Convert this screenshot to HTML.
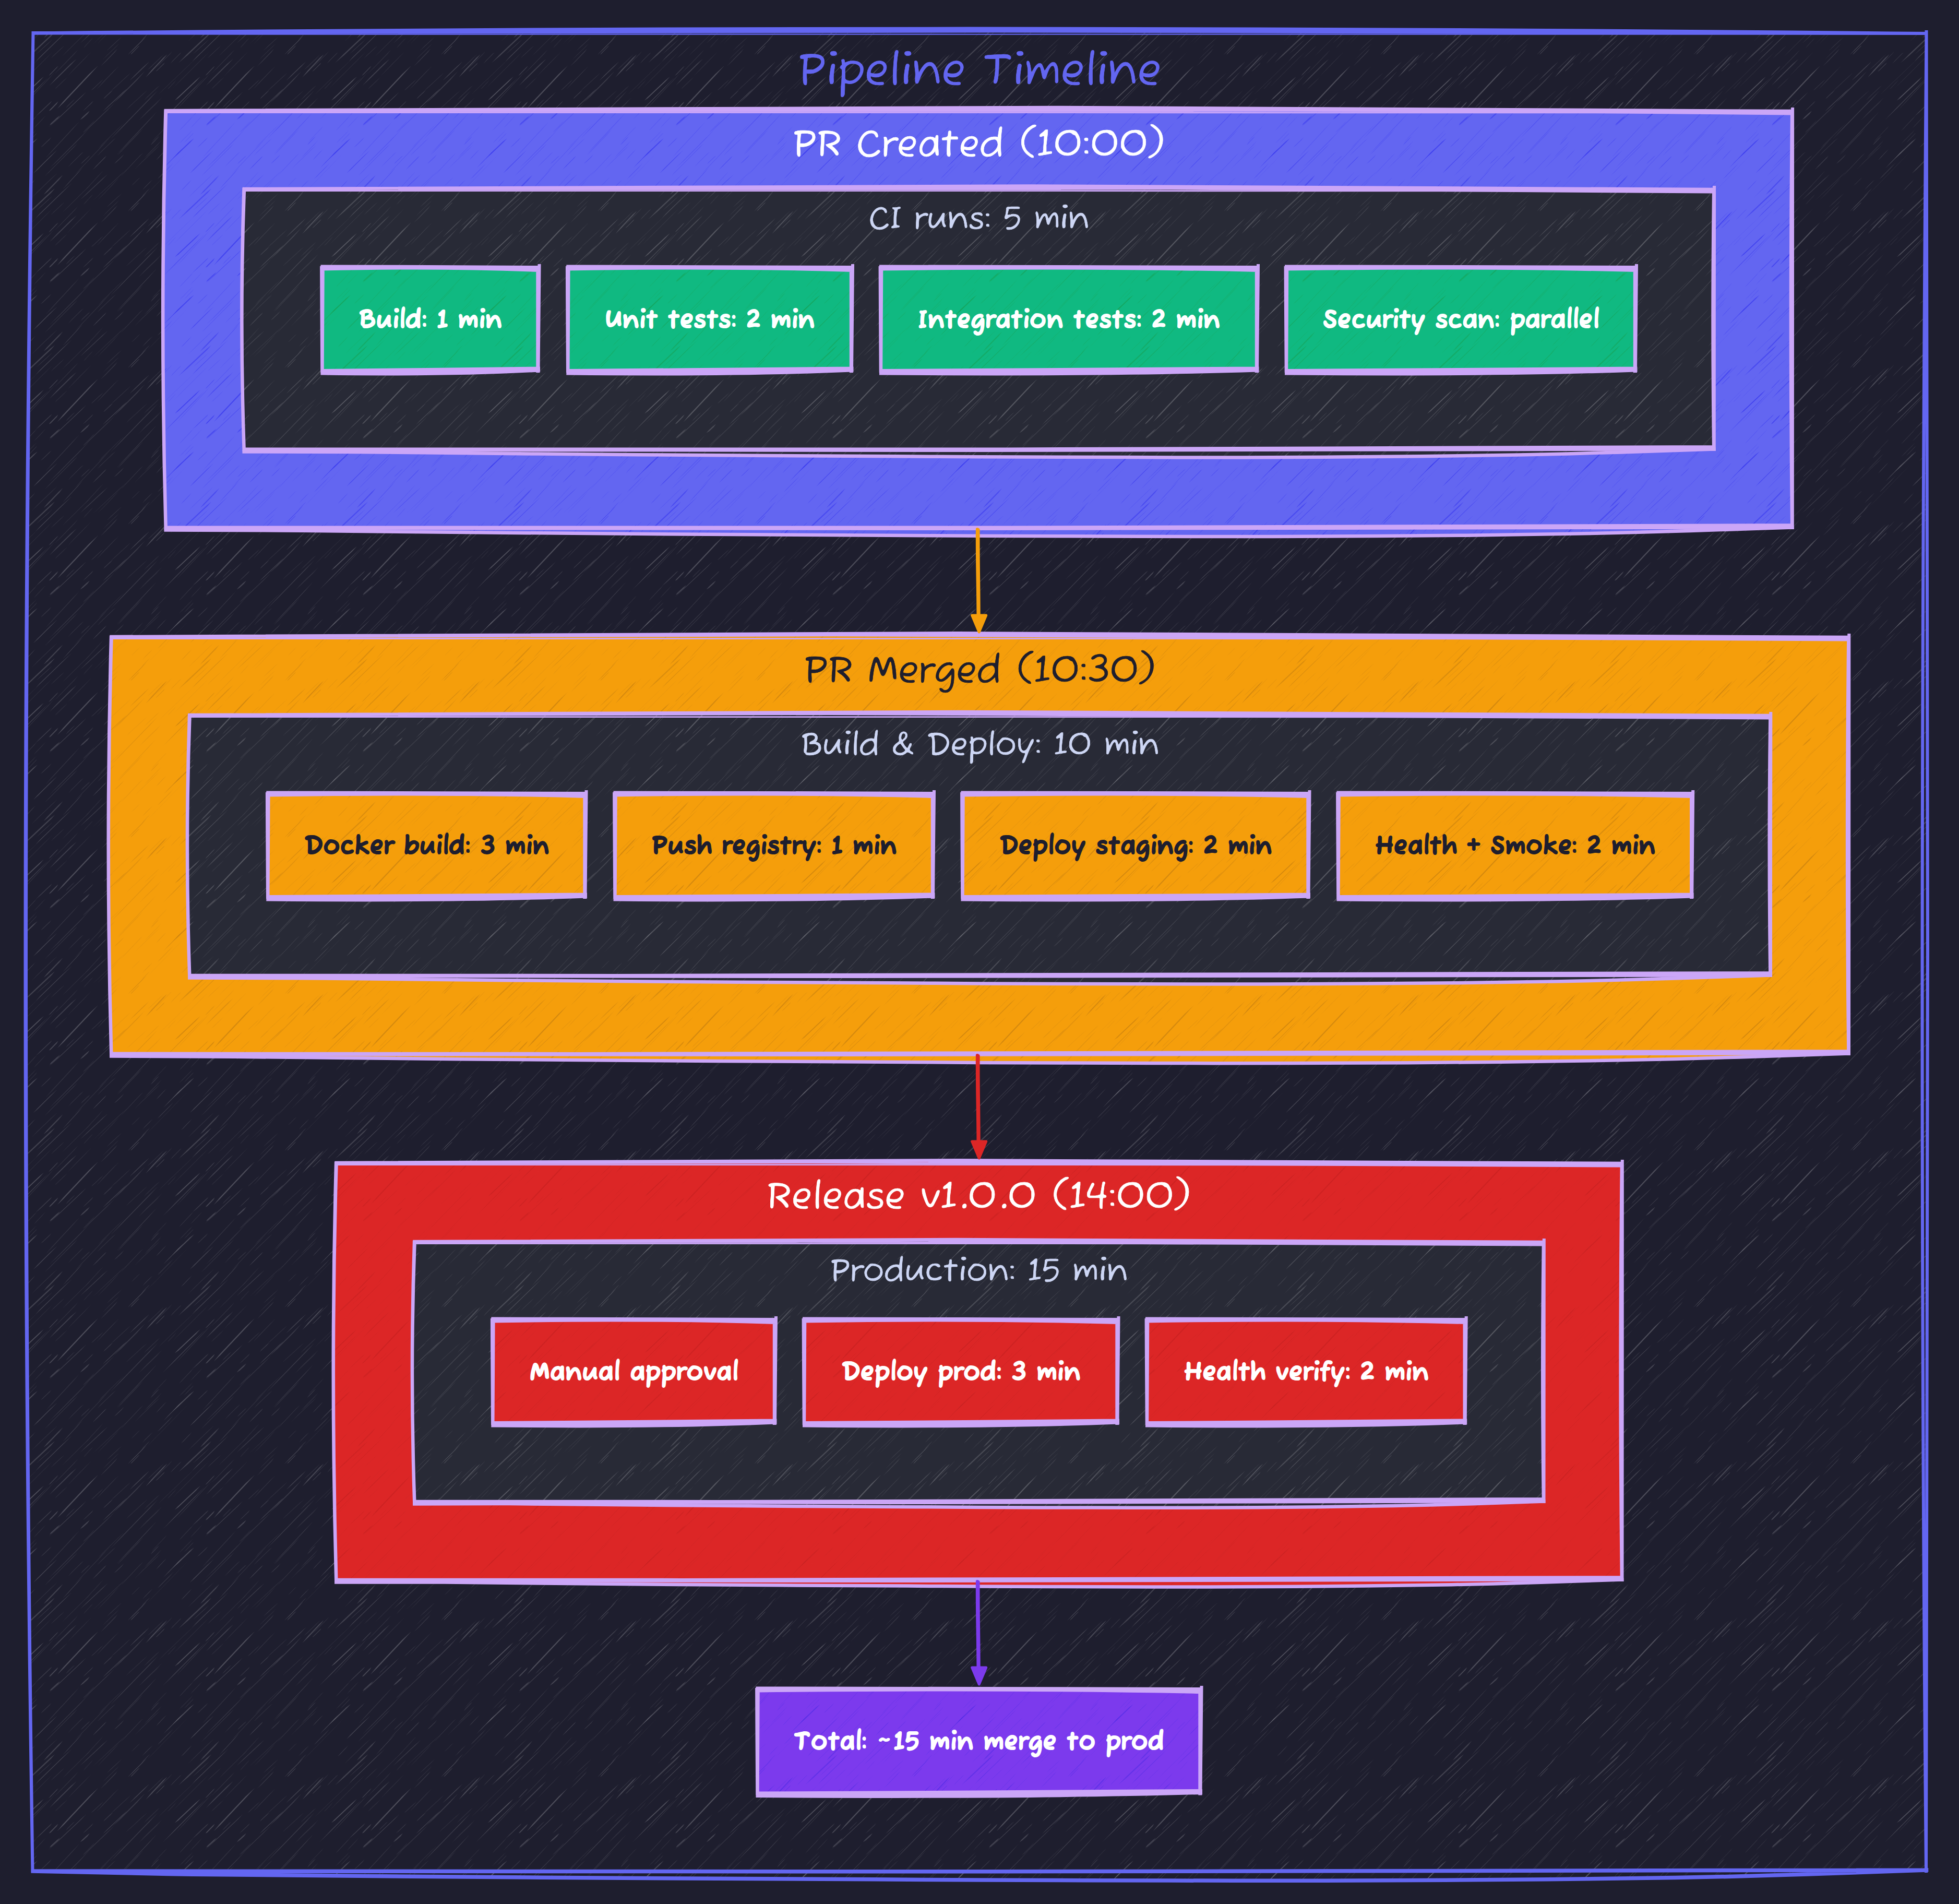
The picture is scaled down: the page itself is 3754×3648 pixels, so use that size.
<!DOCTYPE html>
<html lang="en"><head><meta charset="utf-8"><title>Pipeline Timeline</title>
<style>
html,body{margin:0;padding:0;background:#1e1e2e;width:3754px;height:3648px;overflow:hidden}
svg{display:block}
text{font-family:"Fuzzy Bubbles","Liberation Sans",sans-serif}
</style></head><body>
<svg width="3754" height="3648" viewBox="0 0 3754 3648">
<defs>
<pattern id="sk-dark" width="300" height="300" patternUnits="userSpaceOnUse"><path fill="#ffffff" fill-opacity="0.05" d="M-17.8 71.0L-5.6 59.0L39.9 12.2L59.5 -8.4L39.4 11.7L-6.2 58.5ZM-17.8 371.0L-5.6 359.0L39.9 312.2L59.5 291.6L39.4 311.7L-6.2 358.5ZM282.2 71.0L294.4 59.0L339.9 12.2L359.5 -8.4L339.4 11.7L293.8 58.5ZM282.2 371.0L294.4 359.0L339.9 312.2L359.5 291.6L339.4 311.7L293.8 358.5ZM159.8 92.6L163.6 88.9L175.0 76.5L178.2 72.6L174.0 75.7L162.7 88.0Z"/><path fill="#ffffff" fill-opacity="0.06" d="M-9.2 271.9L-4.0 267.2L16.6 245.8L19.9 241.6L15.8 245.0L-4.8 266.4ZM290.8 271.9L296.0 267.2L316.6 245.8L319.9 241.6L315.8 245.0L295.2 266.4ZM43.2 275.2L49.8 269.7L64.5 254.8L69.6 248.5L63.7 253.9L48.9 268.8ZM105.2 170.8L109.4 167.4L122.6 154.9L129.0 148.1L121.7 153.9L108.5 166.4ZM163.5 64.1L168.6 59.5L188.5 37.9L197.8 26.8L187.6 37.1L167.7 58.7ZM177.7 84.8L196.9 67.6L230.2 36.7L242.4 24.5L229.4 35.8L196.2 66.7ZM188.2 284.6L195.4 277.9L226.5 247.3L237.5 236.1L225.8 246.5L194.7 277.1Z"/><path fill="#ffffff" fill-opacity="0.07" d="M3.2 181.4L13.5 171.8L57.3 129.7L73.7 113.7L56.8 129.2L13.0 171.3ZM303.2 181.4L313.5 171.8L357.3 129.7L373.7 113.7L356.8 129.2L313.0 171.3ZM129.4 145.9L142.0 133.5L162.2 112.9L174.9 99.3L161.5 112.2L141.3 132.8ZM186.2 84.3L197.3 73.5L218.7 51.2L227.8 40.8L218.1 50.6L196.7 72.9ZM211.9 174.9L219.7 168.8L243.3 147.1L250.7 139.3L242.5 146.2L218.8 167.9ZM241.7 210.2L248.1 204.8L274.4 180.7L282.6 172.7L273.7 180.0L247.5 204.1ZM282.1 134.6L289.3 129.0L306.0 112.9L313.9 104.0L305.1 112.0L288.4 128.1ZM-17.9 134.6L-10.7 129.0L6.0 112.9L13.9 104.0L5.1 112.0L-11.6 128.1ZM275.7 192.6L283.2 185.9L301.5 168.5L306.0 163.7L300.7 167.7L282.4 185.0ZM-24.3 192.6L-16.8 185.9L1.5 168.5L6.0 163.7L0.7 167.7L-17.6 185.0ZM277.1 302.4L285.3 295.3L302.1 277.9L309.8 268.6L301.1 277.0L284.3 294.3ZM277.1 2.4L285.3 -4.7L302.1 -22.1L309.8 -31.4L301.1 -23.0L284.3 -5.7ZM-22.9 302.4L-14.7 295.3L2.1 277.9L9.8 268.6L1.1 277.0L-15.7 294.3ZM-22.9 2.4L-14.7 -4.7L2.1 -22.1L9.8 -31.4L1.1 -23.0L-15.7 -5.7Z"/><path fill="#ffffff" fill-opacity="0.08" d="M-3.8 132.3L6.0 123.7L25.0 104.7L30.3 98.2L24.3 104.0L5.3 123.0ZM296.2 132.3L306.0 123.7L325.0 104.7L330.3 98.2L324.3 104.0L305.3 123.0ZM60.1 79.6L71.9 68.5L99.8 41.7L110.2 31.4L99.1 41.0L71.2 67.8ZM31.6 168.4L46.5 154.0L87.5 113.2L100.3 100.1L86.9 112.7L46.0 153.5ZM186.4 298.5L193.1 292.3L216.3 270.0L221.7 264.6L215.5 269.2L192.3 291.5ZM186.4 -1.5L193.1 -7.7L216.3 -30.0L221.7 -35.4L215.5 -30.8L192.3 -8.5ZM224.9 297.4L232.4 290.5L264.0 257.7L274.3 245.9L263.1 256.8L231.6 289.7ZM224.9 -2.6L232.4 -9.5L264.0 -42.3L274.3 -54.1L263.1 -43.2L231.6 -10.3ZM257.5 24.9L271.9 11.2L297.6 -13.3L306.3 -21.7L296.9 -13.9L271.3 10.6ZM257.5 324.9L271.9 311.2L297.6 286.7L306.3 278.3L296.9 286.1L271.3 310.6ZM-42.5 24.9L-28.1 11.2L-2.4 -13.3L6.3 -21.7L-3.1 -13.9L-28.7 10.6ZM-42.5 324.9L-28.1 311.2L-2.4 286.7L6.3 278.3L-3.1 286.1L-28.7 310.6ZM270.0 225.7L282.2 214.8L301.4 196.3L309.8 187.3L300.7 195.5L281.5 214.0ZM-30.0 225.7L-17.8 214.8L1.4 196.3L9.8 187.3L0.7 195.5L-18.5 214.0ZM265.6 230.9L272.9 224.6L298.5 200.1L306.3 191.9L298.0 199.6L272.4 224.1ZM-34.4 230.9L-27.1 224.6L-1.5 200.1L6.3 191.9L-2.0 199.6L-27.6 224.1Z"/><path fill="#ffffff" fill-opacity="0.09" d="M21.0 170.8L23.9 168.8L34.1 158.1L37.9 153.1L33.6 157.6L23.4 168.3ZM43.5 250.6L47.5 247.1L66.0 227.4L70.6 221.7L65.2 226.7L46.8 246.4ZM87.5 302.6L100.7 289.3L140.0 246.7L151.9 233.0L139.1 245.9L99.8 288.5ZM87.5 2.6L100.7 -10.7L140.0 -53.3L151.9 -67.0L139.1 -54.1L99.8 -11.5ZM119.0 107.8L129.3 98.1L163.9 64.1L173.8 53.9L163.4 63.6L128.8 97.6ZM104.7 141.3L116.3 130.6L142.6 103.5L149.2 95.4L141.9 102.8L115.6 129.9ZM126.2 206.9L130.3 203.4L139.5 194.3L143.5 189.8L138.7 193.5L129.5 202.6ZM158.6 254.1L162.2 251.2L177.6 235.2L181.1 230.8L177.1 234.7L161.7 250.7ZM143.5 334.1L155.3 322.8L196.2 279.7L211.6 262.3L195.6 279.1L154.6 322.2ZM143.5 34.1L155.3 22.8L196.2 -20.3L211.6 -37.7L195.6 -20.9L154.6 22.2ZM159.0 255.6L172.0 244.0L204.4 213.0L219.7 197.3L203.5 212.0L171.1 243.1ZM196.7 114.4L205.3 106.4L222.4 89.7L227.9 83.9L221.9 89.2L204.8 105.9ZM251.2 56.6L256.1 52.4L265.4 43.3L268.4 39.9L264.9 42.8L255.6 51.9Z"/><path fill="#ffffff" fill-opacity="0.1" d="M38.5 209.7L51.4 196.5L92.3 152.4L105.1 137.9L91.7 151.9L50.8 196.0ZM64.7 245.8L69.7 241.1L81.1 229.0L87.5 221.6L80.6 228.5L69.2 240.6ZM94.3 323.0L112.7 306.0L150.6 267.9L171.4 245.6L149.8 267.1L111.8 305.2ZM94.3 23.0L112.7 6.0L150.6 -32.1L171.4 -54.4L149.8 -32.9L111.8 5.2ZM154.8 14.4L158.5 11.4L169.9 0.7L172.5 -2.2L169.2 -0.1L157.8 10.6ZM154.8 314.4L158.5 311.4L169.9 300.7L172.5 297.8L169.2 299.9L157.8 310.6ZM193.1 126.7L202.5 118.3L220.7 99.4L225.0 93.6L219.8 98.5L201.6 117.4ZM185.5 170.7L198.3 157.7L218.1 137.1L227.8 126.8L217.4 136.5L197.6 157.0ZM231.6 37.8L242.1 26.8L268.8 -1.5L274.0 -7.1L268.2 -2.1L241.4 26.2ZM231.6 337.8L242.1 326.8L268.8 298.5L274.0 292.9L268.2 297.9L241.4 326.2Z"/><path fill="#ffffff" fill-opacity="0.11" d="M52.7 273.7L57.6 269.3L69.1 257.2L71.1 254.3L68.6 256.7L57.1 268.8ZM78.2 282.4L82.4 279.6L94.5 267.9L98.7 262.7L93.8 267.1L81.7 278.8ZM85.6 37.8L93.7 30.2L140.9 -17.1L148.5 -25.3L140.3 -17.7L93.2 29.7ZM85.6 337.8L93.7 330.2L140.9 282.9L148.5 274.7L140.3 282.3L93.2 329.7ZM97.7 111.7L103.4 106.6L117.9 93.1L123.5 87.6L117.4 92.5L102.9 106.1ZM130.2 20.4L138.2 12.5L155.2 -4.3L160.5 -9.5L154.7 -4.9L137.6 11.9ZM130.2 320.4L138.2 312.5L155.2 295.7L160.5 290.5L154.7 295.1L137.6 311.9ZM204.6 97.2L212.7 90.2L226.8 77.1L233.6 70.2L226.3 76.5L212.2 89.6ZM288.6 278.3L292.8 274.5L301.6 265.3L305.2 260.9L300.7 264.4L291.9 273.6ZM-11.4 278.3L-7.2 274.5L1.6 265.3L5.2 260.9L0.7 264.4L-8.1 273.6Z"/><path fill="#ffffff" fill-opacity="0.12" d="M1.5 43.2L7.4 38.3L23.9 21.5L32.1 12.2L23.2 20.8L6.7 37.6ZM301.5 43.2L307.4 38.3L323.9 21.5L332.1 12.2L323.2 20.8L306.7 37.6ZM153.4 83.3L166.7 71.6L196.2 44.0L206.4 33.8L195.4 43.1L165.8 70.8ZM198.2 189.7L201.5 187.0L211.7 177.4L216.4 172.5L210.9 176.5L200.7 186.2ZM216.9 197.8L232.3 184.1L263.6 152.5L277.5 136.6L262.4 151.2L231.0 182.9ZM211.4 267.0L233.1 245.6L287.1 189.9L302.7 172.9L286.1 189.0L232.1 244.7ZM-88.6 267.0L-66.9 245.6L-12.9 189.9L2.7 172.9L-13.9 189.0L-67.9 244.7ZM223.8 295.8L241.0 278.6L284.6 232.2L301.3 213.4L283.9 231.6L240.3 278.0ZM-76.2 295.8L-59.0 278.6L-15.4 232.2L1.3 213.4L-16.1 231.6L-59.7 278.0ZM270.6 78.6L275.4 73.7L283.3 65.3L287.3 60.9L282.7 64.7L274.7 73.0Z"/><path fill="#ffffff" fill-opacity="0.13" d="M68.2 223.3L77.6 215.4L96.3 197.7L99.6 193.4L95.4 196.8L76.7 214.5ZM158.6 212.8L163.6 209.1L176.1 197.2L178.9 193.3L175.4 196.5L163.0 208.5ZM174.5 173.5L178.0 171.1L193.1 157.1L197.8 152.0L192.6 156.6L177.5 170.6ZM218.7 13.8L223.4 10.5L233.1 1.2L237.6 -4.4L232.4 0.5L222.7 9.8ZM218.7 313.8L223.4 310.5L233.1 301.2L237.6 295.6L232.4 300.5L222.7 309.8Z"/><path fill="#ffffff" fill-opacity="0.14" d="M26.7 121.8L31.3 117.1L44.6 103.6L47.6 100.5L44.1 103.1L30.8 116.6ZM11.8 230.0L35.2 207.5L73.6 168.8L92.0 149.1L72.7 167.9L34.3 206.6ZM69.6 103.8L78.0 96.6L91.8 83.9L100.8 75.1L91.3 83.4L77.6 96.1ZM94.6 164.1L109.8 150.0L136.7 123.6L146.8 112.8L135.4 122.2L108.5 148.7Z"/><path fill="#ffffff" fill-opacity="0.15" d="M42.3 120.2L59.8 105.4L97.8 69.7L105.0 61.3L96.3 68.1L58.3 103.8ZM83.8 72.9L90.9 67.5L113.5 44.3L120.3 35.2L111.9 42.8L89.4 66.1ZM177.7 25.2L184.9 18.8L200.8 2.7L204.1 -1.5L200.0 2.0L184.1 18.0ZM177.7 325.2L184.9 318.8L200.8 302.7L204.1 298.5L200.0 302.0L184.1 318.0ZM248.3 154.4L258.9 145.2L277.2 127.7L286.0 118.2L276.2 126.7L258.0 144.3ZM272.7 64.3L278.5 58.4L286.7 50.2L292.6 44.0L286.2 49.7L278.0 57.9Z"/><path fill="#ffffff" fill-opacity="0.16" d="M64.0 32.3L72.5 24.7L97.3 0.1L109.5 -12.6L96.4 -0.8L71.5 23.8ZM64.0 332.3L72.5 324.7L97.3 300.1L109.5 287.4L96.4 299.2L71.5 323.8ZM93.2 145.3L96.6 142.7L109.0 130.0L111.6 126.5L108.2 129.3L95.9 141.9ZM95.1 239.9L99.0 237.8L110.6 227.0L115.0 221.3L109.1 225.4L97.5 236.3ZM92.7 244.5L114.7 224.7L156.1 185.7L165.1 176.3L155.5 185.0L114.1 224.0ZM153.7 229.5L159.3 226.0L167.6 218.4L171.9 212.6L166.1 216.8L157.8 224.5Z"/><path fill="#ffffff" fill-opacity="0.17" d="M-1.8 137.2L1.4 135.1L13.7 123.0L15.6 120.1L13.1 122.3L0.8 134.4ZM298.2 137.2L301.4 135.1L313.7 123.0L315.6 120.1L313.1 122.3L300.8 134.4ZM13.1 22.2L24.0 11.8L41.4 -6.0L51.3 -16.8L40.8 -6.7L23.3 11.1ZM13.1 322.2L24.0 311.8L41.4 294.0L51.3 283.2L40.8 293.3L23.3 311.1ZM47.0 65.2L51.5 61.5L62.2 50.3L67.5 43.9L61.7 49.8L51.0 61.0ZM68.2 118.2L77.0 110.0L119.5 68.8L137.8 50.7L118.8 68.0L76.2 109.2ZM119.8 62.9L130.4 52.2L149.7 31.2L158.0 21.4L149.1 30.7L129.8 51.7ZM196.9 213.8L205.6 206.2L236.7 176.8L243.3 169.7L236.0 176.1L205.0 205.6ZM250.2 104.7L252.9 102.4L265.5 89.6L267.5 87.2L264.9 89.0L252.2 101.8Z"/><path fill="#ffffff" fill-opacity="0.18" d="M-0.5 306.7L4.6 301.5L14.2 291.3L18.7 286.3L13.7 290.9L4.1 301.1ZM-0.5 6.7L4.6 1.5L14.2 -8.7L18.7 -13.7L13.7 -9.1L4.1 1.1ZM299.5 306.7L304.6 301.5L314.2 291.3L318.7 286.3L313.7 290.9L304.1 301.1ZM299.5 6.7L304.6 1.5L314.2 -8.7L318.7 -13.7L313.7 -9.1L304.1 1.1ZM30.0 305.0L42.4 294.2L64.8 272.7L71.9 264.9L63.5 271.2L41.0 292.7ZM30.0 5.0L42.4 -5.8L64.8 -27.3L71.9 -35.1L63.5 -28.8L41.0 -7.3ZM93.8 212.8L97.2 211.1L108.7 199.3L111.5 194.6L107.4 198.0L95.9 209.8ZM244.9 105.1L255.1 95.8L271.9 79.0L281.0 69.0L271.1 78.2L254.3 95.0Z"/><path fill="#ffffff" fill-opacity="0.19" d="M279.4 148.0L291.3 136.4L313.9 112.2L320.4 104.2L312.5 111.0L289.9 135.1ZM-20.6 148.0L-8.7 136.4L13.9 112.2L20.4 104.2L12.5 111.0L-10.1 135.1Z"/><path fill="#ffffff" fill-opacity="0.2" d="M110.1 208.1L122.2 196.4L171.7 144.1L187.9 126.0L170.1 142.6L120.6 194.9Z"/><path fill="#ffffff" fill-opacity="0.21" d="M35.0 192.6L41.8 187.7L75.5 156.0L83.8 146.8L74.3 154.8L40.6 186.4Z"/></pattern>
<pattern id="sk-blue" width="300" height="300" patternUnits="userSpaceOnUse"><path fill="#2a2aee" fill-opacity="0.15" d="M-17.8 71.0L-5.6 59.0L39.9 12.2L59.5 -8.4L39.4 11.7L-6.2 58.5ZM-17.8 371.0L-5.6 359.0L39.9 312.2L59.5 291.6L39.4 311.7L-6.2 358.5ZM282.2 71.0L294.4 59.0L339.9 12.2L359.5 -8.4L339.4 11.7L293.8 58.5ZM282.2 371.0L294.4 359.0L339.9 312.2L359.5 291.6L339.4 311.7L293.8 358.5Z"/><path fill="#2a2aee" fill-opacity="0.16" d="M159.8 92.6L163.6 88.9L175.0 76.5L178.2 72.6L174.0 75.7L162.7 88.0ZM163.5 64.1L168.6 59.5L188.5 37.9L197.8 26.8L187.6 37.1L167.7 58.7Z"/><path fill="#2a2aee" fill-opacity="0.17" d="M43.2 275.2L49.8 269.7L64.5 254.8L69.6 248.5L63.7 253.9L48.9 268.8ZM177.7 84.8L196.9 67.6L230.2 36.7L242.4 24.5L229.4 35.8L196.2 66.7ZM188.2 284.6L195.4 277.9L226.5 247.3L237.5 236.1L225.8 246.5L194.7 277.1Z"/><path fill="#2a2aee" fill-opacity="0.18" d="M-9.2 271.9L-4.0 267.2L16.6 245.8L19.9 241.6L15.8 245.0L-4.8 266.4ZM290.8 271.9L296.0 267.2L316.6 245.8L319.9 241.6L315.8 245.0L295.2 266.4ZM105.2 170.8L109.4 167.4L122.6 154.9L129.0 148.1L121.7 153.9L108.5 166.4Z"/><path fill="#2a2aee" fill-opacity="0.19" d="M3.2 181.4L13.5 171.8L57.3 129.7L73.7 113.7L56.8 129.2L13.0 171.3ZM303.2 181.4L313.5 171.8L357.3 129.7L373.7 113.7L356.8 129.2L313.0 171.3ZM241.7 210.2L248.1 204.8L274.4 180.7L282.6 172.7L273.7 180.0L247.5 204.1ZM277.1 302.4L285.3 295.3L302.1 277.9L309.8 268.6L301.1 277.0L284.3 294.3ZM277.1 2.4L285.3 -4.7L302.1 -22.1L309.8 -31.4L301.1 -23.0L284.3 -5.7ZM-22.9 302.4L-14.7 295.3L2.1 277.9L9.8 268.6L1.1 277.0L-15.7 294.3ZM-22.9 2.4L-14.7 -4.7L2.1 -22.1L9.8 -31.4L1.1 -23.0L-15.7 -5.7Z"/><path fill="#2a2aee" fill-opacity="0.2" d="M129.4 145.9L142.0 133.5L162.2 112.9L174.9 99.3L161.5 112.2L141.3 132.8ZM211.9 174.9L219.7 168.8L243.3 147.1L250.7 139.3L242.5 146.2L218.8 167.9ZM282.1 134.6L289.3 129.0L306.0 112.9L313.9 104.0L305.1 112.0L288.4 128.1ZM-17.9 134.6L-10.7 129.0L6.0 112.9L13.9 104.0L5.1 112.0L-11.6 128.1ZM275.7 192.6L283.2 185.9L301.5 168.5L306.0 163.7L300.7 167.7L282.4 185.0ZM-24.3 192.6L-16.8 185.9L1.5 168.5L6.0 163.7L0.7 167.7L-17.6 185.0Z"/><path fill="#2a2aee" fill-opacity="0.21" d="M186.2 84.3L197.3 73.5L218.7 51.2L227.8 40.8L218.1 50.6L196.7 72.9Z"/><path fill="#2a2aee" fill-opacity="0.22" d="M186.4 298.5L193.1 292.3L216.3 270.0L221.7 264.6L215.5 269.2L192.3 291.5ZM186.4 -1.5L193.1 -7.7L216.3 -30.0L221.7 -35.4L215.5 -30.8L192.3 -8.5ZM257.5 24.9L271.9 11.2L297.6 -13.3L306.3 -21.7L296.9 -13.9L271.3 10.6ZM257.5 324.9L271.9 311.2L297.6 286.7L306.3 278.3L296.9 286.1L271.3 310.6ZM-42.5 24.9L-28.1 11.2L-2.4 -13.3L6.3 -21.7L-3.1 -13.9L-28.7 10.6ZM-42.5 324.9L-28.1 311.2L-2.4 286.7L6.3 278.3L-3.1 286.1L-28.7 310.6Z"/><path fill="#2a2aee" fill-opacity="0.23" d="M-3.8 132.3L6.0 123.7L25.0 104.7L30.3 98.2L24.3 104.0L5.3 123.0ZM296.2 132.3L306.0 123.7L325.0 104.7L330.3 98.2L324.3 104.0L305.3 123.0ZM60.1 79.6L71.9 68.5L99.8 41.7L110.2 31.4L99.1 41.0L71.2 67.8ZM31.6 168.4L46.5 154.0L87.5 113.2L100.3 100.1L86.9 112.7L46.0 153.5ZM224.9 297.4L232.4 290.5L264.0 257.7L274.3 245.9L263.1 256.8L231.6 289.7ZM224.9 -2.6L232.4 -9.5L264.0 -42.3L274.3 -54.1L263.1 -43.2L231.6 -10.3ZM270.0 225.7L282.2 214.8L301.4 196.3L309.8 187.3L300.7 195.5L281.5 214.0ZM-30.0 225.7L-17.8 214.8L1.4 196.3L9.8 187.3L0.7 195.5L-18.5 214.0ZM265.6 230.9L272.9 224.6L298.5 200.1L306.3 191.9L298.0 199.6L272.4 224.1ZM-34.4 230.9L-27.1 224.6L-1.5 200.1L6.3 191.9L-2.0 199.6L-27.6 224.1Z"/><path fill="#2a2aee" fill-opacity="0.25" d="M21.0 170.8L23.9 168.8L34.1 158.1L37.9 153.1L33.6 157.6L23.4 168.3ZM87.5 302.6L100.7 289.3L140.0 246.7L151.9 233.0L139.1 245.9L99.8 288.5ZM87.5 2.6L100.7 -10.7L140.0 -53.3L151.9 -67.0L139.1 -54.1L99.8 -11.5ZM119.0 107.8L129.3 98.1L163.9 64.1L173.8 53.9L163.4 63.6L128.8 97.6ZM158.6 254.1L162.2 251.2L177.6 235.2L181.1 230.8L177.1 234.7L161.7 250.7ZM159.0 255.6L172.0 244.0L204.4 213.0L219.7 197.3L203.5 212.0L171.1 243.1Z"/><path fill="#2a2aee" fill-opacity="0.26" d="M43.5 250.6L47.5 247.1L66.0 227.4L70.6 221.7L65.2 226.7L46.8 246.4ZM104.7 141.3L116.3 130.6L142.6 103.5L149.2 95.4L141.9 102.8L115.6 129.9ZM126.2 206.9L130.3 203.4L139.5 194.3L143.5 189.8L138.7 193.5L129.5 202.6ZM251.2 56.6L256.1 52.4L265.4 43.3L268.4 39.9L264.9 42.8L255.6 51.9Z"/><path fill="#2a2aee" fill-opacity="0.27" d="M143.5 334.1L155.3 322.8L196.2 279.7L211.6 262.3L195.6 279.1L154.6 322.2ZM143.5 34.1L155.3 22.8L196.2 -20.3L211.6 -37.7L195.6 -20.9L154.6 22.2ZM196.7 114.4L205.3 106.4L222.4 89.7L227.9 83.9L221.9 89.2L204.8 105.9Z"/><path fill="#2a2aee" fill-opacity="0.28" d="M64.7 245.8L69.7 241.1L81.1 229.0L87.5 221.6L80.6 228.5L69.2 240.6ZM193.1 126.7L202.5 118.3L220.7 99.4L225.0 93.6L219.8 98.5L201.6 117.4ZM185.5 170.7L198.3 157.7L218.1 137.1L227.8 126.8L217.4 136.5L197.6 157.0ZM231.6 37.8L242.1 26.8L268.8 -1.5L274.0 -7.1L268.2 -2.1L241.4 26.2ZM231.6 337.8L242.1 326.8L268.8 298.5L274.0 292.9L268.2 297.9L241.4 326.2Z"/><path fill="#2a2aee" fill-opacity="0.29" d="M38.5 209.7L51.4 196.5L92.3 152.4L105.1 137.9L91.7 151.9L50.8 196.0ZM94.3 323.0L112.7 306.0L150.6 267.9L171.4 245.6L149.8 267.1L111.8 305.2ZM94.3 23.0L112.7 6.0L150.6 -32.1L171.4 -54.4L149.8 -32.9L111.8 5.2ZM154.8 14.4L158.5 11.4L169.9 0.7L172.5 -2.2L169.2 -0.1L157.8 10.6ZM154.8 314.4L158.5 311.4L169.9 300.7L172.5 297.8L169.2 299.9L157.8 310.6Z"/><path fill="#2a2aee" fill-opacity="0.31" d="M52.7 273.7L57.6 269.3L69.1 257.2L71.1 254.3L68.6 256.7L57.1 268.8ZM97.7 111.7L103.4 106.6L117.9 93.1L123.5 87.6L117.4 92.5L102.9 106.1ZM130.2 20.4L138.2 12.5L155.2 -4.3L160.5 -9.5L154.7 -4.9L137.6 11.9ZM130.2 320.4L138.2 312.5L155.2 295.7L160.5 290.5L154.7 295.1L137.6 311.9ZM288.6 278.3L292.8 274.5L301.6 265.3L305.2 260.9L300.7 264.4L291.9 273.6ZM-11.4 278.3L-7.2 274.5L1.6 265.3L5.2 260.9L0.7 264.4L-8.1 273.6Z"/><path fill="#2a2aee" fill-opacity="0.32" d="M78.2 282.4L82.4 279.6L94.5 267.9L98.7 262.7L93.8 267.1L81.7 278.8ZM85.6 37.8L93.7 30.2L140.9 -17.1L148.5 -25.3L140.3 -17.7L93.2 29.7ZM85.6 337.8L93.7 330.2L140.9 282.9L148.5 274.7L140.3 282.3L93.2 329.7ZM204.6 97.2L212.7 90.2L226.8 77.1L233.6 70.2L226.3 76.5L212.2 89.6Z"/><path fill="#2a2aee" fill-opacity="0.33" d="M223.8 295.8L241.0 278.6L284.6 232.2L301.3 213.4L283.9 231.6L240.3 278.0ZM-76.2 295.8L-59.0 278.6L-15.4 232.2L1.3 213.4L-16.1 231.6L-59.7 278.0Z"/><path fill="#2a2aee" fill-opacity="0.34" d="M198.2 189.7L201.5 187.0L211.7 177.4L216.4 172.5L210.9 176.5L200.7 186.2ZM270.6 78.6L275.4 73.7L283.3 65.3L287.3 60.9L282.7 64.7L274.7 73.0Z"/><path fill="#2a2aee" fill-opacity="0.35" d="M1.5 43.2L7.4 38.3L23.9 21.5L32.1 12.2L23.2 20.8L6.7 37.6ZM301.5 43.2L307.4 38.3L323.9 21.5L332.1 12.2L323.2 20.8L306.7 37.6ZM153.4 83.3L166.7 71.6L196.2 44.0L206.4 33.8L195.4 43.1L165.8 70.8ZM216.9 197.8L232.3 184.1L263.6 152.5L277.5 136.6L262.4 151.2L231.0 182.9ZM211.4 267.0L233.1 245.6L287.1 189.9L302.7 172.9L286.1 189.0L232.1 244.7ZM-88.6 267.0L-66.9 245.6L-12.9 189.9L2.7 172.9L-13.9 189.0L-67.9 244.7Z"/><path fill="#2a2aee" fill-opacity="0.36" d="M68.2 223.3L77.6 215.4L96.3 197.7L99.6 193.4L95.4 196.8L76.7 214.5ZM218.7 13.8L223.4 10.5L233.1 1.2L237.6 -4.4L232.4 0.5L222.7 9.8ZM218.7 313.8L223.4 310.5L233.1 301.2L237.6 295.6L232.4 300.5L222.7 309.8Z"/><path fill="#2a2aee" fill-opacity="0.37" d="M158.6 212.8L163.6 209.1L176.1 197.2L178.9 193.3L175.4 196.5L163.0 208.5ZM174.5 173.5L178.0 171.1L193.1 157.1L197.8 152.0L192.6 156.6L177.5 170.6Z"/><path fill="#2a2aee" fill-opacity="0.39" d="M26.7 121.8L31.3 117.1L44.6 103.6L47.6 100.5L44.1 103.1L30.8 116.6ZM69.6 103.8L78.0 96.6L91.8 83.9L100.8 75.1L91.3 83.4L77.6 96.1Z"/><path fill="#2a2aee" fill-opacity="0.4" d="M11.8 230.0L35.2 207.5L73.6 168.8L92.0 149.1L72.7 167.9L34.3 206.6Z"/><path fill="#2a2aee" fill-opacity="0.41" d="M94.6 164.1L109.8 150.0L136.7 123.6L146.8 112.8L135.4 122.2L108.5 148.7Z"/><path fill="#2a2aee" fill-opacity="0.42" d="M272.7 64.3L278.5 58.4L286.7 50.2L292.6 44.0L286.2 49.7L278.0 57.9Z"/><path fill="#2a2aee" fill-opacity="0.43" d="M83.8 72.9L90.9 67.5L113.5 44.3L120.3 35.2L111.9 42.8L89.4 66.1ZM248.3 154.4L258.9 145.2L277.2 127.7L286.0 118.2L276.2 126.7L258.0 144.3Z"/><path fill="#2a2aee" fill-opacity="0.44" d="M42.3 120.2L59.8 105.4L97.8 69.7L105.0 61.3L96.3 68.1L58.3 103.8ZM93.2 145.3L96.6 142.7L109.0 130.0L111.6 126.5L108.2 129.3L95.9 141.9ZM177.7 25.2L184.9 18.8L200.8 2.7L204.1 -1.5L200.0 2.0L184.1 18.0ZM177.7 325.2L184.9 318.8L200.8 302.7L204.1 298.5L200.0 302.0L184.1 318.0Z"/><path fill="#2a2aee" fill-opacity="0.45" d="M153.7 229.5L159.3 226.0L167.6 218.4L171.9 212.6L166.1 216.8L157.8 224.5Z"/><path fill="#2a2aee" fill-opacity="0.46" d="M64.0 32.3L72.5 24.7L97.3 0.1L109.5 -12.6L96.4 -0.8L71.5 23.8ZM64.0 332.3L72.5 324.7L97.3 300.1L109.5 287.4L96.4 299.2L71.5 323.8ZM95.1 239.9L99.0 237.8L110.6 227.0L115.0 221.3L109.1 225.4L97.5 236.3Z"/><path fill="#2a2aee" fill-opacity="0.47" d="M119.8 62.9L130.4 52.2L149.7 31.2L158.0 21.4L149.1 30.7L129.8 51.7ZM92.7 244.5L114.7 224.7L156.1 185.7L165.1 176.3L155.5 185.0L114.1 224.0Z"/><path fill="#2a2aee" fill-opacity="0.48" d="M68.2 118.2L77.0 110.0L119.5 68.8L137.8 50.7L118.8 68.0L76.2 109.2ZM250.2 104.7L252.9 102.4L265.5 89.6L267.5 87.2L264.9 89.0L252.2 101.8Z"/><path fill="#2a2aee" fill-opacity="0.49" d="M-1.8 137.2L1.4 135.1L13.7 123.0L15.6 120.1L13.1 122.3L0.8 134.4ZM298.2 137.2L301.4 135.1L313.7 123.0L315.6 120.1L313.1 122.3L300.8 134.4ZM13.1 22.2L24.0 11.8L41.4 -6.0L51.3 -16.8L40.8 -6.7L23.3 11.1ZM13.1 322.2L24.0 311.8L41.4 294.0L51.3 283.2L40.8 293.3L23.3 311.1ZM47.0 65.2L51.5 61.5L62.2 50.3L67.5 43.9L61.7 49.8L51.0 61.0ZM196.9 213.8L205.6 206.2L236.7 176.8L243.3 169.7L236.0 176.1L205.0 205.6Z"/><path fill="#2a2aee" fill-opacity="0.5" d="M-0.5 306.7L4.6 301.5L14.2 291.3L18.7 286.3L13.7 290.9L4.1 301.1ZM-0.5 6.7L4.6 1.5L14.2 -8.7L18.7 -13.7L13.7 -9.1L4.1 1.1ZM299.5 306.7L304.6 301.5L314.2 291.3L318.7 286.3L313.7 290.9L304.1 301.1ZM299.5 6.7L304.6 1.5L314.2 -8.7L318.7 -13.7L313.7 -9.1L304.1 1.1ZM244.9 105.1L255.1 95.8L271.9 79.0L281.0 69.0L271.1 78.2L254.3 95.0Z"/><path fill="#2a2aee" fill-opacity="0.53" d="M30.0 305.0L42.4 294.2L64.8 272.7L71.9 264.9L63.5 271.2L41.0 292.7ZM30.0 5.0L42.4 -5.8L64.8 -27.3L71.9 -35.1L63.5 -28.8L41.0 -7.3ZM93.8 212.8L97.2 211.1L108.7 199.3L111.5 194.6L107.4 198.0L95.9 209.8Z"/><path fill="#2a2aee" fill-opacity="0.55" d="M279.4 148.0L291.3 136.4L313.9 112.2L320.4 104.2L312.5 111.0L289.9 135.1ZM-20.6 148.0L-8.7 136.4L13.9 112.2L20.4 104.2L12.5 111.0L-10.1 135.1Z"/><path fill="#2a2aee" fill-opacity="0.56" d="M110.1 208.1L122.2 196.4L171.7 144.1L187.9 126.0L170.1 142.6L120.6 194.9Z"/><path fill="#2a2aee" fill-opacity="0.6" d="M35.0 192.6L41.8 187.7L75.5 156.0L83.8 146.8L74.3 154.8L40.6 186.4Z"/></pattern>
<pattern id="sk-green" width="300" height="300" patternUnits="userSpaceOnUse"><path fill="#1a8a2a" fill-opacity="0.1" d="M-17.8 71.0L-5.6 59.0L39.9 12.2L59.5 -8.4L39.4 11.7L-6.2 58.5ZM-17.8 371.0L-5.6 359.0L39.9 312.2L59.5 291.6L39.4 311.7L-6.2 358.5ZM282.2 71.0L294.4 59.0L339.9 12.2L359.5 -8.4L339.4 11.7L293.8 58.5ZM282.2 371.0L294.4 359.0L339.9 312.2L359.5 291.6L339.4 311.7L293.8 358.5ZM159.8 92.6L163.6 88.9L175.0 76.5L178.2 72.6L174.0 75.7L162.7 88.0Z"/><path fill="#1a8a2a" fill-opacity="0.11" d="M43.2 275.2L49.8 269.7L64.5 254.8L69.6 248.5L63.7 253.9L48.9 268.8ZM163.5 64.1L168.6 59.5L188.5 37.9L197.8 26.8L187.6 37.1L167.7 58.7ZM188.2 284.6L195.4 277.9L226.5 247.3L237.5 236.1L225.8 246.5L194.7 277.1Z"/><path fill="#1a8a2a" fill-opacity="0.12" d="M-9.2 271.9L-4.0 267.2L16.6 245.8L19.9 241.6L15.8 245.0L-4.8 266.4ZM290.8 271.9L296.0 267.2L316.6 245.8L319.9 241.6L315.8 245.0L295.2 266.4ZM105.2 170.8L109.4 167.4L122.6 154.9L129.0 148.1L121.7 153.9L108.5 166.4ZM177.7 84.8L196.9 67.6L230.2 36.7L242.4 24.5L229.4 35.8L196.2 66.7ZM241.7 210.2L248.1 204.8L274.4 180.7L282.6 172.7L273.7 180.0L247.5 204.1Z"/><path fill="#1a8a2a" fill-opacity="0.13" d="M3.2 181.4L13.5 171.8L57.3 129.7L73.7 113.7L56.8 129.2L13.0 171.3ZM303.2 181.4L313.5 171.8L357.3 129.7L373.7 113.7L356.8 129.2L313.0 171.3ZM282.1 134.6L289.3 129.0L306.0 112.9L313.9 104.0L305.1 112.0L288.4 128.1ZM-17.9 134.6L-10.7 129.0L6.0 112.9L13.9 104.0L5.1 112.0L-11.6 128.1ZM277.1 302.4L285.3 295.3L302.1 277.9L309.8 268.6L301.1 277.0L284.3 294.3ZM277.1 2.4L285.3 -4.7L302.1 -22.1L309.8 -31.4L301.1 -23.0L284.3 -5.7ZM-22.9 302.4L-14.7 295.3L2.1 277.9L9.8 268.6L1.1 277.0L-15.7 294.3ZM-22.9 2.4L-14.7 -4.7L2.1 -22.1L9.8 -31.4L1.1 -23.0L-15.7 -5.7Z"/><path fill="#1a8a2a" fill-opacity="0.14" d="M129.4 145.9L142.0 133.5L162.2 112.9L174.9 99.3L161.5 112.2L141.3 132.8ZM186.2 84.3L197.3 73.5L218.7 51.2L227.8 40.8L218.1 50.6L196.7 72.9ZM186.4 298.5L193.1 292.3L216.3 270.0L221.7 264.6L215.5 269.2L192.3 291.5ZM186.4 -1.5L193.1 -7.7L216.3 -30.0L221.7 -35.4L215.5 -30.8L192.3 -8.5ZM211.9 174.9L219.7 168.8L243.3 147.1L250.7 139.3L242.5 146.2L218.8 167.9ZM257.5 24.9L271.9 11.2L297.6 -13.3L306.3 -21.7L296.9 -13.9L271.3 10.6ZM257.5 324.9L271.9 311.2L297.6 286.7L306.3 278.3L296.9 286.1L271.3 310.6ZM-42.5 24.9L-28.1 11.2L-2.4 -13.3L6.3 -21.7L-3.1 -13.9L-28.7 10.6ZM-42.5 324.9L-28.1 311.2L-2.4 286.7L6.3 278.3L-3.1 286.1L-28.7 310.6ZM275.7 192.6L283.2 185.9L301.5 168.5L306.0 163.7L300.7 167.7L282.4 185.0ZM-24.3 192.6L-16.8 185.9L1.5 168.5L6.0 163.7L0.7 167.7L-17.6 185.0Z"/><path fill="#1a8a2a" fill-opacity="0.15" d="M-3.8 132.3L6.0 123.7L25.0 104.7L30.3 98.2L24.3 104.0L5.3 123.0ZM296.2 132.3L306.0 123.7L325.0 104.7L330.3 98.2L324.3 104.0L305.3 123.0ZM60.1 79.6L71.9 68.5L99.8 41.7L110.2 31.4L99.1 41.0L71.2 67.8ZM31.6 168.4L46.5 154.0L87.5 113.2L100.3 100.1L86.9 112.7L46.0 153.5ZM270.0 225.7L282.2 214.8L301.4 196.3L309.8 187.3L300.7 195.5L281.5 214.0ZM-30.0 225.7L-17.8 214.8L1.4 196.3L9.8 187.3L0.7 195.5L-18.5 214.0ZM265.6 230.9L272.9 224.6L298.5 200.1L306.3 191.9L298.0 199.6L272.4 224.1ZM-34.4 230.9L-27.1 224.6L-1.5 200.1L6.3 191.9L-2.0 199.6L-27.6 224.1Z"/><path fill="#1a8a2a" fill-opacity="0.16" d="M21.0 170.8L23.9 168.8L34.1 158.1L37.9 153.1L33.6 157.6L23.4 168.3ZM87.5 302.6L100.7 289.3L140.0 246.7L151.9 233.0L139.1 245.9L99.8 288.5ZM87.5 2.6L100.7 -10.7L140.0 -53.3L151.9 -67.0L139.1 -54.1L99.8 -11.5ZM224.9 297.4L232.4 290.5L264.0 257.7L274.3 245.9L263.1 256.8L231.6 289.7ZM224.9 -2.6L232.4 -9.5L264.0 -42.3L274.3 -54.1L263.1 -43.2L231.6 -10.3Z"/><path fill="#1a8a2a" fill-opacity="0.17" d="M119.0 107.8L129.3 98.1L163.9 64.1L173.8 53.9L163.4 63.6L128.8 97.6ZM126.2 206.9L130.3 203.4L139.5 194.3L143.5 189.8L138.7 193.5L129.5 202.6ZM158.6 254.1L162.2 251.2L177.6 235.2L181.1 230.8L177.1 234.7L161.7 250.7ZM159.0 255.6L172.0 244.0L204.4 213.0L219.7 197.3L203.5 212.0L171.1 243.1Z"/><path fill="#1a8a2a" fill-opacity="0.18" d="M43.5 250.6L47.5 247.1L66.0 227.4L70.6 221.7L65.2 226.7L46.8 246.4ZM104.7 141.3L116.3 130.6L142.6 103.5L149.2 95.4L141.9 102.8L115.6 129.9ZM143.5 334.1L155.3 322.8L196.2 279.7L211.6 262.3L195.6 279.1L154.6 322.2ZM143.5 34.1L155.3 22.8L196.2 -20.3L211.6 -37.7L195.6 -20.9L154.6 22.2ZM193.1 126.7L202.5 118.3L220.7 99.4L225.0 93.6L219.8 98.5L201.6 117.4ZM185.5 170.7L198.3 157.7L218.1 137.1L227.8 126.8L217.4 136.5L197.6 157.0ZM196.7 114.4L205.3 106.4L222.4 89.7L227.9 83.9L221.9 89.2L204.8 105.9ZM231.6 37.8L242.1 26.8L268.8 -1.5L274.0 -7.1L268.2 -2.1L241.4 26.2ZM231.6 337.8L242.1 326.8L268.8 298.5L274.0 292.9L268.2 297.9L241.4 326.2ZM251.2 56.6L256.1 52.4L265.4 43.3L268.4 39.9L264.9 42.8L255.6 51.9Z"/><path fill="#1a8a2a" fill-opacity="0.19" d="M38.5 209.7L51.4 196.5L92.3 152.4L105.1 137.9L91.7 151.9L50.8 196.0ZM64.7 245.8L69.7 241.1L81.1 229.0L87.5 221.6L80.6 228.5L69.2 240.6ZM154.8 14.4L158.5 11.4L169.9 0.7L172.5 -2.2L169.2 -0.1L157.8 10.6ZM154.8 314.4L158.5 311.4L169.9 300.7L172.5 297.8L169.2 299.9L157.8 310.6Z"/><path fill="#1a8a2a" fill-opacity="0.2" d="M94.3 323.0L112.7 306.0L150.6 267.9L171.4 245.6L149.8 267.1L111.8 305.2ZM94.3 23.0L112.7 6.0L150.6 -32.1L171.4 -54.4L149.8 -32.9L111.8 5.2ZM288.6 278.3L292.8 274.5L301.6 265.3L305.2 260.9L300.7 264.4L291.9 273.6ZM-11.4 278.3L-7.2 274.5L1.6 265.3L5.2 260.9L0.7 264.4L-8.1 273.6Z"/><path fill="#1a8a2a" fill-opacity="0.21" d="M52.7 273.7L57.6 269.3L69.1 257.2L71.1 254.3L68.6 256.7L57.1 268.8ZM78.2 282.4L82.4 279.6L94.5 267.9L98.7 262.7L93.8 267.1L81.7 278.8ZM85.6 37.8L93.7 30.2L140.9 -17.1L148.5 -25.3L140.3 -17.7L93.2 29.7ZM85.6 337.8L93.7 330.2L140.9 282.9L148.5 274.7L140.3 282.3L93.2 329.7ZM97.7 111.7L103.4 106.6L117.9 93.1L123.5 87.6L117.4 92.5L102.9 106.1ZM130.2 20.4L138.2 12.5L155.2 -4.3L160.5 -9.5L154.7 -4.9L137.6 11.9ZM130.2 320.4L138.2 312.5L155.2 295.7L160.5 290.5L154.7 295.1L137.6 311.9Z"/><path fill="#1a8a2a" fill-opacity="0.22" d="M204.6 97.2L212.7 90.2L226.8 77.1L233.6 70.2L226.3 76.5L212.2 89.6ZM223.8 295.8L241.0 278.6L284.6 232.2L301.3 213.4L283.9 231.6L240.3 278.0ZM-76.2 295.8L-59.0 278.6L-15.4 232.2L1.3 213.4L-16.1 231.6L-59.7 278.0Z"/><path fill="#1a8a2a" fill-opacity="0.23" d="M198.2 189.7L201.5 187.0L211.7 177.4L216.4 172.5L210.9 176.5L200.7 186.2ZM216.9 197.8L232.3 184.1L263.6 152.5L277.5 136.6L262.4 151.2L231.0 182.9ZM211.4 267.0L233.1 245.6L287.1 189.9L302.7 172.9L286.1 189.0L232.1 244.7ZM-88.6 267.0L-66.9 245.6L-12.9 189.9L2.7 172.9L-13.9 189.0L-67.9 244.7ZM270.6 78.6L275.4 73.7L283.3 65.3L287.3 60.9L282.7 64.7L274.7 73.0Z"/><path fill="#1a8a2a" fill-opacity="0.24" d="M1.5 43.2L7.4 38.3L23.9 21.5L32.1 12.2L23.2 20.8L6.7 37.6ZM301.5 43.2L307.4 38.3L323.9 21.5L332.1 12.2L323.2 20.8L306.7 37.6ZM68.2 223.3L77.6 215.4L96.3 197.7L99.6 193.4L95.4 196.8L76.7 214.5ZM153.4 83.3L166.7 71.6L196.2 44.0L206.4 33.8L195.4 43.1L165.8 70.8ZM158.6 212.8L163.6 209.1L176.1 197.2L178.9 193.3L175.4 196.5L163.0 208.5ZM174.5 173.5L178.0 171.1L193.1 157.1L197.8 152.0L192.6 156.6L177.5 170.6ZM218.7 13.8L223.4 10.5L233.1 1.2L237.6 -4.4L232.4 0.5L222.7 9.8ZM218.7 313.8L223.4 310.5L233.1 301.2L237.6 295.6L232.4 300.5L222.7 309.8Z"/><path fill="#1a8a2a" fill-opacity="0.26" d="M26.7 121.8L31.3 117.1L44.6 103.6L47.6 100.5L44.1 103.1L30.8 116.6ZM69.6 103.8L78.0 96.6L91.8 83.9L100.8 75.1L91.3 83.4L77.6 96.1Z"/><path fill="#1a8a2a" fill-opacity="0.27" d="M11.8 230.0L35.2 207.5L73.6 168.8L92.0 149.1L72.7 167.9L34.3 206.6Z"/><path fill="#1a8a2a" fill-opacity="0.28" d="M83.8 72.9L90.9 67.5L113.5 44.3L120.3 35.2L111.9 42.8L89.4 66.1ZM94.6 164.1L109.8 150.0L136.7 123.6L146.8 112.8L135.4 122.2L108.5 148.7ZM272.7 64.3L278.5 58.4L286.7 50.2L292.6 44.0L286.2 49.7L278.0 57.9Z"/><path fill="#1a8a2a" fill-opacity="0.29" d="M42.3 120.2L59.8 105.4L97.8 69.7L105.0 61.3L96.3 68.1L58.3 103.8ZM177.7 25.2L184.9 18.8L200.8 2.7L204.1 -1.5L200.0 2.0L184.1 18.0ZM177.7 325.2L184.9 318.8L200.8 302.7L204.1 298.5L200.0 302.0L184.1 318.0ZM248.3 154.4L258.9 145.2L277.2 127.7L286.0 118.2L276.2 126.7L258.0 144.3Z"/><path fill="#1a8a2a" fill-opacity="0.3" d="M64.0 32.3L72.5 24.7L97.3 0.1L109.5 -12.6L96.4 -0.8L71.5 23.8ZM64.0 332.3L72.5 324.7L97.3 300.1L109.5 287.4L96.4 299.2L71.5 323.8ZM93.2 145.3L96.6 142.7L109.0 130.0L111.6 126.5L108.2 129.3L95.9 141.9ZM153.7 229.5L159.3 226.0L167.6 218.4L171.9 212.6L166.1 216.8L157.8 224.5Z"/><path fill="#1a8a2a" fill-opacity="0.31" d="M95.1 239.9L99.0 237.8L110.6 227.0L115.0 221.3L109.1 225.4L97.5 236.3ZM92.7 244.5L114.7 224.7L156.1 185.7L165.1 176.3L155.5 185.0L114.1 224.0Z"/><path fill="#1a8a2a" fill-opacity="0.32" d="M47.0 65.2L51.5 61.5L62.2 50.3L67.5 43.9L61.7 49.8L51.0 61.0ZM68.2 118.2L77.0 110.0L119.5 68.8L137.8 50.7L118.8 68.0L76.2 109.2ZM119.8 62.9L130.4 52.2L149.7 31.2L158.0 21.4L149.1 30.7L129.8 51.7ZM196.9 213.8L205.6 206.2L236.7 176.8L243.3 169.7L236.0 176.1L205.0 205.6ZM250.2 104.7L252.9 102.4L265.5 89.6L267.5 87.2L264.9 89.0L252.2 101.8Z"/><path fill="#1a8a2a" fill-opacity="0.33" d="M-1.8 137.2L1.4 135.1L13.7 123.0L15.6 120.1L13.1 122.3L0.8 134.4ZM298.2 137.2L301.4 135.1L313.7 123.0L315.6 120.1L313.1 122.3L300.8 134.4ZM13.1 22.2L24.0 11.8L41.4 -6.0L51.3 -16.8L40.8 -6.7L23.3 11.1ZM13.1 322.2L24.0 311.8L41.4 294.0L51.3 283.2L40.8 293.3L23.3 311.1Z"/><path fill="#1a8a2a" fill-opacity="0.34" d="M-0.5 306.7L4.6 301.5L14.2 291.3L18.7 286.3L13.7 290.9L4.1 301.1ZM-0.5 6.7L4.6 1.5L14.2 -8.7L18.7 -13.7L13.7 -9.1L4.1 1.1ZM299.5 306.7L304.6 301.5L314.2 291.3L318.7 286.3L313.7 290.9L304.1 301.1ZM299.5 6.7L304.6 1.5L314.2 -8.7L318.7 -13.7L313.7 -9.1L304.1 1.1ZM244.9 105.1L255.1 95.8L271.9 79.0L281.0 69.0L271.1 78.2L254.3 95.0Z"/><path fill="#1a8a2a" fill-opacity="0.35" d="M30.0 305.0L42.4 294.2L64.8 272.7L71.9 264.9L63.5 271.2L41.0 292.7ZM30.0 5.0L42.4 -5.8L64.8 -27.3L71.9 -35.1L63.5 -28.8L41.0 -7.3ZM93.8 212.8L97.2 211.1L108.7 199.3L111.5 194.6L107.4 198.0L95.9 209.8Z"/><path fill="#1a8a2a" fill-opacity="0.36" d="M279.4 148.0L291.3 136.4L313.9 112.2L320.4 104.2L312.5 111.0L289.9 135.1ZM-20.6 148.0L-8.7 136.4L13.9 112.2L20.4 104.2L12.5 111.0L-10.1 135.1Z"/><path fill="#1a8a2a" fill-opacity="0.37" d="M110.1 208.1L122.2 196.4L171.7 144.1L187.9 126.0L170.1 142.6L120.6 194.9Z"/><path fill="#1a8a2a" fill-opacity="0.4" d="M35.0 192.6L41.8 187.7L75.5 156.0L83.8 146.8L74.3 154.8L40.6 186.4Z"/></pattern>
<pattern id="sk-amber" width="300" height="300" patternUnits="userSpaceOnUse"><path fill="#a86a10" fill-opacity="0.11" d="M-17.8 71.0L-5.6 59.0L39.9 12.2L59.5 -8.4L39.4 11.7L-6.2 58.5ZM-17.8 371.0L-5.6 359.0L39.9 312.2L59.5 291.6L39.4 311.7L-6.2 358.5ZM282.2 71.0L294.4 59.0L339.9 12.2L359.5 -8.4L339.4 11.7L293.8 58.5ZM282.2 371.0L294.4 359.0L339.9 312.2L359.5 291.6L339.4 311.7L293.8 358.5Z"/><path fill="#a86a10" fill-opacity="0.12" d="M159.8 92.6L163.6 88.9L175.0 76.5L178.2 72.6L174.0 75.7L162.7 88.0ZM163.5 64.1L168.6 59.5L188.5 37.9L197.8 26.8L187.6 37.1L167.7 58.7Z"/><path fill="#a86a10" fill-opacity="0.13" d="M43.2 275.2L49.8 269.7L64.5 254.8L69.6 248.5L63.7 253.9L48.9 268.8ZM177.7 84.8L196.9 67.6L230.2 36.7L242.4 24.5L229.4 35.8L196.2 66.7ZM188.2 284.6L195.4 277.9L226.5 247.3L237.5 236.1L225.8 246.5L194.7 277.1Z"/><path fill="#a86a10" fill-opacity="0.14" d="M-9.2 271.9L-4.0 267.2L16.6 245.8L19.9 241.6L15.8 245.0L-4.8 266.4ZM290.8 271.9L296.0 267.2L316.6 245.8L319.9 241.6L315.8 245.0L295.2 266.4ZM3.2 181.4L13.5 171.8L57.3 129.7L73.7 113.7L56.8 129.2L13.0 171.3ZM303.2 181.4L313.5 171.8L357.3 129.7L373.7 113.7L356.8 129.2L313.0 171.3ZM105.2 170.8L109.4 167.4L122.6 154.9L129.0 148.1L121.7 153.9L108.5 166.4ZM241.7 210.2L248.1 204.8L274.4 180.7L282.6 172.7L273.7 180.0L247.5 204.1ZM277.1 302.4L285.3 295.3L302.1 277.9L309.8 268.6L301.1 277.0L284.3 294.3ZM277.1 2.4L285.3 -4.7L302.1 -22.1L309.8 -31.4L301.1 -23.0L284.3 -5.7ZM-22.9 302.4L-14.7 295.3L2.1 277.9L9.8 268.6L1.1 277.0L-15.7 294.3ZM-22.9 2.4L-14.7 -4.7L2.1 -22.1L9.8 -31.4L1.1 -23.0L-15.7 -5.7Z"/><path fill="#a86a10" fill-opacity="0.15" d="M129.4 145.9L142.0 133.5L162.2 112.9L174.9 99.3L161.5 112.2L141.3 132.8ZM211.9 174.9L219.7 168.8L243.3 147.1L250.7 139.3L242.5 146.2L218.8 167.9ZM282.1 134.6L289.3 129.0L306.0 112.9L313.9 104.0L305.1 112.0L288.4 128.1ZM-17.9 134.6L-10.7 129.0L6.0 112.9L13.9 104.0L5.1 112.0L-11.6 128.1ZM275.7 192.6L283.2 185.9L301.5 168.5L306.0 163.7L300.7 167.7L282.4 185.0ZM-24.3 192.6L-16.8 185.9L1.5 168.5L6.0 163.7L0.7 167.7L-17.6 185.0Z"/><path fill="#a86a10" fill-opacity="0.16" d="M186.2 84.3L197.3 73.5L218.7 51.2L227.8 40.8L218.1 50.6L196.7 72.9ZM186.4 298.5L193.1 292.3L216.3 270.0L221.7 264.6L215.5 269.2L192.3 291.5ZM186.4 -1.5L193.1 -7.7L216.3 -30.0L221.7 -35.4L215.5 -30.8L192.3 -8.5ZM257.5 24.9L271.9 11.2L297.6 -13.3L306.3 -21.7L296.9 -13.9L271.3 10.6ZM257.5 324.9L271.9 311.2L297.6 286.7L306.3 278.3L296.9 286.1L271.3 310.6ZM-42.5 24.9L-28.1 11.2L-2.4 -13.3L6.3 -21.7L-3.1 -13.9L-28.7 10.6ZM-42.5 324.9L-28.1 311.2L-2.4 286.7L6.3 278.3L-3.1 286.1L-28.7 310.6Z"/><path fill="#a86a10" fill-opacity="0.17" d="M-3.8 132.3L6.0 123.7L25.0 104.7L30.3 98.2L24.3 104.0L5.3 123.0ZM296.2 132.3L306.0 123.7L325.0 104.7L330.3 98.2L324.3 104.0L305.3 123.0ZM60.1 79.6L71.9 68.5L99.8 41.7L110.2 31.4L99.1 41.0L71.2 67.8ZM31.6 168.4L46.5 154.0L87.5 113.2L100.3 100.1L86.9 112.7L46.0 153.5ZM270.0 225.7L282.2 214.8L301.4 196.3L309.8 187.3L300.7 195.5L281.5 214.0ZM-30.0 225.7L-17.8 214.8L1.4 196.3L9.8 187.3L0.7 195.5L-18.5 214.0ZM265.6 230.9L272.9 224.6L298.5 200.1L306.3 191.9L298.0 199.6L272.4 224.1ZM-34.4 230.9L-27.1 224.6L-1.5 200.1L6.3 191.9L-2.0 199.6L-27.6 224.1Z"/><path fill="#a86a10" fill-opacity="0.18" d="M21.0 170.8L23.9 168.8L34.1 158.1L37.9 153.1L33.6 157.6L23.4 168.3ZM87.5 302.6L100.7 289.3L140.0 246.7L151.9 233.0L139.1 245.9L99.8 288.5ZM87.5 2.6L100.7 -10.7L140.0 -53.3L151.9 -67.0L139.1 -54.1L99.8 -11.5ZM224.9 297.4L232.4 290.5L264.0 257.7L274.3 245.9L263.1 256.8L231.6 289.7ZM224.9 -2.6L232.4 -9.5L264.0 -42.3L274.3 -54.1L263.1 -43.2L231.6 -10.3Z"/><path fill="#a86a10" fill-opacity="0.19" d="M119.0 107.8L129.3 98.1L163.9 64.1L173.8 53.9L163.4 63.6L128.8 97.6ZM126.2 206.9L130.3 203.4L139.5 194.3L143.5 189.8L138.7 193.5L129.5 202.6ZM158.6 254.1L162.2 251.2L177.6 235.2L181.1 230.8L177.1 234.7L161.7 250.7ZM159.0 255.6L172.0 244.0L204.4 213.0L219.7 197.3L203.5 212.0L171.1 243.1Z"/><path fill="#a86a10" fill-opacity="0.2" d="M43.5 250.6L47.5 247.1L66.0 227.4L70.6 221.7L65.2 226.7L46.8 246.4ZM104.7 141.3L116.3 130.6L142.6 103.5L149.2 95.4L141.9 102.8L115.6 129.9ZM143.5 334.1L155.3 322.8L196.2 279.7L211.6 262.3L195.6 279.1L154.6 322.2ZM143.5 34.1L155.3 22.8L196.2 -20.3L211.6 -37.7L195.6 -20.9L154.6 22.2ZM196.7 114.4L205.3 106.4L222.4 89.7L227.9 83.9L221.9 89.2L204.8 105.9ZM251.2 56.6L256.1 52.4L265.4 43.3L268.4 39.9L264.9 42.8L255.6 51.9Z"/><path fill="#a86a10" fill-opacity="0.21" d="M64.7 245.8L69.7 241.1L81.1 229.0L87.5 221.6L80.6 228.5L69.2 240.6ZM193.1 126.7L202.5 118.3L220.7 99.4L225.0 93.6L219.8 98.5L201.6 117.4ZM185.5 170.7L198.3 157.7L218.1 137.1L227.8 126.8L217.4 136.5L197.6 157.0ZM231.6 37.8L242.1 26.8L268.8 -1.5L274.0 -7.1L268.2 -2.1L241.4 26.2ZM231.6 337.8L242.1 326.8L268.8 298.5L274.0 292.9L268.2 297.9L241.4 326.2Z"/><path fill="#a86a10" fill-opacity="0.22" d="M38.5 209.7L51.4 196.5L92.3 152.4L105.1 137.9L91.7 151.9L50.8 196.0ZM94.3 323.0L112.7 306.0L150.6 267.9L171.4 245.6L149.8 267.1L111.8 305.2ZM94.3 23.0L112.7 6.0L150.6 -32.1L171.4 -54.4L149.8 -32.9L111.8 5.2ZM154.8 14.4L158.5 11.4L169.9 0.7L172.5 -2.2L169.2 -0.1L157.8 10.6ZM154.8 314.4L158.5 311.4L169.9 300.7L172.5 297.8L169.2 299.9L157.8 310.6Z"/><path fill="#a86a10" fill-opacity="0.23" d="M52.7 273.7L57.6 269.3L69.1 257.2L71.1 254.3L68.6 256.7L57.1 268.8ZM97.7 111.7L103.4 106.6L117.9 93.1L123.5 87.6L117.4 92.5L102.9 106.1ZM130.2 20.4L138.2 12.5L155.2 -4.3L160.5 -9.5L154.7 -4.9L137.6 11.9ZM130.2 320.4L138.2 312.5L155.2 295.7L160.5 290.5L154.7 295.1L137.6 311.9ZM288.6 278.3L292.8 274.5L301.6 265.3L305.2 260.9L300.7 264.4L291.9 273.6ZM-11.4 278.3L-7.2 274.5L1.6 265.3L5.2 260.9L0.7 264.4L-8.1 273.6Z"/><path fill="#a86a10" fill-opacity="0.24" d="M78.2 282.4L82.4 279.6L94.5 267.9L98.7 262.7L93.8 267.1L81.7 278.8ZM85.6 37.8L93.7 30.2L140.9 -17.1L148.5 -25.3L140.3 -17.7L93.2 29.7ZM85.6 337.8L93.7 330.2L140.9 282.9L148.5 274.7L140.3 282.3L93.2 329.7ZM204.6 97.2L212.7 90.2L226.8 77.1L233.6 70.2L226.3 76.5L212.2 89.6Z"/><path fill="#a86a10" fill-opacity="0.25" d="M223.8 295.8L241.0 278.6L284.6 232.2L301.3 213.4L283.9 231.6L240.3 278.0ZM-76.2 295.8L-59.0 278.6L-15.4 232.2L1.3 213.4L-16.1 231.6L-59.7 278.0Z"/><path fill="#a86a10" fill-opacity="0.26" d="M198.2 189.7L201.5 187.0L211.7 177.4L216.4 172.5L210.9 176.5L200.7 186.2ZM216.9 197.8L232.3 184.1L263.6 152.5L277.5 136.6L262.4 151.2L231.0 182.9ZM211.4 267.0L233.1 245.6L287.1 189.9L302.7 172.9L286.1 189.0L232.1 244.7ZM-88.6 267.0L-66.9 245.6L-12.9 189.9L2.7 172.9L-13.9 189.0L-67.9 244.7ZM270.6 78.6L275.4 73.7L283.3 65.3L287.3 60.9L282.7 64.7L274.7 73.0Z"/><path fill="#a86a10" fill-opacity="0.27" d="M1.5 43.2L7.4 38.3L23.9 21.5L32.1 12.2L23.2 20.8L6.7 37.6ZM301.5 43.2L307.4 38.3L323.9 21.5L332.1 12.2L323.2 20.8L306.7 37.6ZM68.2 223.3L77.6 215.4L96.3 197.7L99.6 193.4L95.4 196.8L76.7 214.5ZM153.4 83.3L166.7 71.6L196.2 44.0L206.4 33.8L195.4 43.1L165.8 70.8ZM158.6 212.8L163.6 209.1L176.1 197.2L178.9 193.3L175.4 196.5L163.0 208.5ZM174.5 173.5L178.0 171.1L193.1 157.1L197.8 152.0L192.6 156.6L177.5 170.6ZM218.7 13.8L223.4 10.5L233.1 1.2L237.6 -4.4L232.4 0.5L222.7 9.8ZM218.7 313.8L223.4 310.5L233.1 301.2L237.6 295.6L232.4 300.5L222.7 309.8Z"/><path fill="#a86a10" fill-opacity="0.29" d="M26.7 121.8L31.3 117.1L44.6 103.6L47.6 100.5L44.1 103.1L30.8 116.6ZM69.6 103.8L78.0 96.6L91.8 83.9L100.8 75.1L91.3 83.4L77.6 96.1Z"/><path fill="#a86a10" fill-opacity="0.3" d="M11.8 230.0L35.2 207.5L73.6 168.8L92.0 149.1L72.7 167.9L34.3 206.6Z"/><path fill="#a86a10" fill-opacity="0.31" d="M94.6 164.1L109.8 150.0L136.7 123.6L146.8 112.8L135.4 122.2L108.5 148.7Z"/><path fill="#a86a10" fill-opacity="0.32" d="M83.8 72.9L90.9 67.5L113.5 44.3L120.3 35.2L111.9 42.8L89.4 66.1ZM248.3 154.4L258.9 145.2L277.2 127.7L286.0 118.2L276.2 126.7L258.0 144.3ZM272.7 64.3L278.5 58.4L286.7 50.2L292.6 44.0L286.2 49.7L278.0 57.9Z"/><path fill="#a86a10" fill-opacity="0.33" d="M42.3 120.2L59.8 105.4L97.8 69.7L105.0 61.3L96.3 68.1L58.3 103.8ZM93.2 145.3L96.6 142.7L109.0 130.0L111.6 126.5L108.2 129.3L95.9 141.9ZM177.7 25.2L184.9 18.8L200.8 2.7L204.1 -1.5L200.0 2.0L184.1 18.0ZM177.7 325.2L184.9 318.8L200.8 302.7L204.1 298.5L200.0 302.0L184.1 318.0Z"/><path fill="#a86a10" fill-opacity="0.34" d="M64.0 32.3L72.5 24.7L97.3 0.1L109.5 -12.6L96.4 -0.8L71.5 23.8ZM64.0 332.3L72.5 324.7L97.3 300.1L109.5 287.4L96.4 299.2L71.5 323.8ZM153.7 229.5L159.3 226.0L167.6 218.4L171.9 212.6L166.1 216.8L157.8 224.5Z"/><path fill="#a86a10" fill-opacity="0.35" d="M95.1 239.9L99.0 237.8L110.6 227.0L115.0 221.3L109.1 225.4L97.5 236.3ZM92.7 244.5L114.7 224.7L156.1 185.7L165.1 176.3L155.5 185.0L114.1 224.0Z"/><path fill="#a86a10" fill-opacity="0.36" d="M47.0 65.2L51.5 61.5L62.2 50.3L67.5 43.9L61.7 49.8L51.0 61.0ZM68.2 118.2L77.0 110.0L119.5 68.8L137.8 50.7L118.8 68.0L76.2 109.2ZM119.8 62.9L130.4 52.2L149.7 31.2L158.0 21.4L149.1 30.7L129.8 51.7ZM196.9 213.8L205.6 206.2L236.7 176.8L243.3 169.7L236.0 176.1L205.0 205.6ZM250.2 104.7L252.9 102.4L265.5 89.6L267.5 87.2L264.9 89.0L252.2 101.8Z"/><path fill="#a86a10" fill-opacity="0.37" d="M-1.8 137.2L1.4 135.1L13.7 123.0L15.6 120.1L13.1 122.3L0.8 134.4ZM298.2 137.2L301.4 135.1L313.7 123.0L315.6 120.1L313.1 122.3L300.8 134.4ZM13.1 22.2L24.0 11.8L41.4 -6.0L51.3 -16.8L40.8 -6.7L23.3 11.1ZM13.1 322.2L24.0 311.8L41.4 294.0L51.3 283.2L40.8 293.3L23.3 311.1Z"/><path fill="#a86a10" fill-opacity="0.38" d="M-0.5 306.7L4.6 301.5L14.2 291.3L18.7 286.3L13.7 290.9L4.1 301.1ZM-0.5 6.7L4.6 1.5L14.2 -8.7L18.7 -13.7L13.7 -9.1L4.1 1.1ZM299.5 306.7L304.6 301.5L314.2 291.3L318.7 286.3L313.7 290.9L304.1 301.1ZM299.5 6.7L304.6 1.5L314.2 -8.7L318.7 -13.7L313.7 -9.1L304.1 1.1ZM244.9 105.1L255.1 95.8L271.9 79.0L281.0 69.0L271.1 78.2L254.3 95.0Z"/><path fill="#a86a10" fill-opacity="0.4" d="M30.0 305.0L42.4 294.2L64.8 272.7L71.9 264.9L63.5 271.2L41.0 292.7ZM30.0 5.0L42.4 -5.8L64.8 -27.3L71.9 -35.1L63.5 -28.8L41.0 -7.3ZM93.8 212.8L97.2 211.1L108.7 199.3L111.5 194.6L107.4 198.0L95.9 209.8Z"/><path fill="#a86a10" fill-opacity="0.41" d="M279.4 148.0L291.3 136.4L313.9 112.2L320.4 104.2L312.5 111.0L289.9 135.1ZM-20.6 148.0L-8.7 136.4L13.9 112.2L20.4 104.2L12.5 111.0L-10.1 135.1Z"/><path fill="#a86a10" fill-opacity="0.42" d="M110.1 208.1L122.2 196.4L171.7 144.1L187.9 126.0L170.1 142.6L120.6 194.9Z"/><path fill="#a86a10" fill-opacity="0.45" d="M35.0 192.6L41.8 187.7L75.5 156.0L83.8 146.8L74.3 154.8L40.6 186.4Z"/></pattern>
<pattern id="sk-red" width="300" height="300" patternUnits="userSpaceOnUse"><path fill="#a81616" fill-opacity="0.07" d="M-17.8 71.0L-5.6 59.0L39.9 12.2L59.5 -8.4L39.4 11.7L-6.2 58.5ZM-17.8 371.0L-5.6 359.0L39.9 312.2L59.5 291.6L39.4 311.7L-6.2 358.5ZM282.2 71.0L294.4 59.0L339.9 12.2L359.5 -8.4L339.4 11.7L293.8 58.5ZM282.2 371.0L294.4 359.0L339.9 312.2L359.5 291.6L339.4 311.7L293.8 358.5Z"/><path fill="#a81616" fill-opacity="0.08" d="M43.2 275.2L49.8 269.7L64.5 254.8L69.6 248.5L63.7 253.9L48.9 268.8ZM159.8 92.6L163.6 88.9L175.0 76.5L178.2 72.6L174.0 75.7L162.7 88.0ZM163.5 64.1L168.6 59.5L188.5 37.9L197.8 26.8L187.6 37.1L167.7 58.7ZM188.2 284.6L195.4 277.9L226.5 247.3L237.5 236.1L225.8 246.5L194.7 277.1Z"/><path fill="#a81616" fill-opacity="0.09" d="M-9.2 271.9L-4.0 267.2L16.6 245.8L19.9 241.6L15.8 245.0L-4.8 266.4ZM290.8 271.9L296.0 267.2L316.6 245.8L319.9 241.6L315.8 245.0L295.2 266.4ZM105.2 170.8L109.4 167.4L122.6 154.9L129.0 148.1L121.7 153.9L108.5 166.4ZM177.7 84.8L196.9 67.6L230.2 36.7L242.4 24.5L229.4 35.8L196.2 66.7ZM241.7 210.2L248.1 204.8L274.4 180.7L282.6 172.7L273.7 180.0L247.5 204.1Z"/><path fill="#a81616" fill-opacity="0.1" d="M3.2 181.4L13.5 171.8L57.3 129.7L73.7 113.7L56.8 129.2L13.0 171.3ZM303.2 181.4L313.5 171.8L357.3 129.7L373.7 113.7L356.8 129.2L313.0 171.3ZM129.4 145.9L142.0 133.5L162.2 112.9L174.9 99.3L161.5 112.2L141.3 132.8ZM186.2 84.3L197.3 73.5L218.7 51.2L227.8 40.8L218.1 50.6L196.7 72.9ZM211.9 174.9L219.7 168.8L243.3 147.1L250.7 139.3L242.5 146.2L218.8 167.9ZM282.1 134.6L289.3 129.0L306.0 112.9L313.9 104.0L305.1 112.0L288.4 128.1ZM-17.9 134.6L-10.7 129.0L6.0 112.9L13.9 104.0L5.1 112.0L-11.6 128.1ZM275.7 192.6L283.2 185.9L301.5 168.5L306.0 163.7L300.7 167.7L282.4 185.0ZM-24.3 192.6L-16.8 185.9L1.5 168.5L6.0 163.7L0.7 167.7L-17.6 185.0ZM277.1 302.4L285.3 295.3L302.1 277.9L309.8 268.6L301.1 277.0L284.3 294.3ZM277.1 2.4L285.3 -4.7L302.1 -22.1L309.8 -31.4L301.1 -23.0L284.3 -5.7ZM-22.9 302.4L-14.7 295.3L2.1 277.9L9.8 268.6L1.1 277.0L-15.7 294.3ZM-22.9 2.4L-14.7 -4.7L2.1 -22.1L9.8 -31.4L1.1 -23.0L-15.7 -5.7Z"/><path fill="#a81616" fill-opacity="0.11" d="M-3.8 132.3L6.0 123.7L25.0 104.7L30.3 98.2L24.3 104.0L5.3 123.0ZM296.2 132.3L306.0 123.7L325.0 104.7L330.3 98.2L324.3 104.0L305.3 123.0ZM60.1 79.6L71.9 68.5L99.8 41.7L110.2 31.4L99.1 41.0L71.2 67.8ZM31.6 168.4L46.5 154.0L87.5 113.2L100.3 100.1L86.9 112.7L46.0 153.5ZM186.4 298.5L193.1 292.3L216.3 270.0L221.7 264.6L215.5 269.2L192.3 291.5ZM186.4 -1.5L193.1 -7.7L216.3 -30.0L221.7 -35.4L215.5 -30.8L192.3 -8.5ZM257.5 24.9L271.9 11.2L297.6 -13.3L306.3 -21.7L296.9 -13.9L271.3 10.6ZM257.5 324.9L271.9 311.2L297.6 286.7L306.3 278.3L296.9 286.1L271.3 310.6ZM-42.5 24.9L-28.1 11.2L-2.4 -13.3L6.3 -21.7L-3.1 -13.9L-28.7 10.6ZM-42.5 324.9L-28.1 311.2L-2.4 286.7L6.3 278.3L-3.1 286.1L-28.7 310.6ZM270.0 225.7L282.2 214.8L301.4 196.3L309.8 187.3L300.7 195.5L281.5 214.0ZM-30.0 225.7L-17.8 214.8L1.4 196.3L9.8 187.3L0.7 195.5L-18.5 214.0ZM265.6 230.9L272.9 224.6L298.5 200.1L306.3 191.9L298.0 199.6L272.4 224.1ZM-34.4 230.9L-27.1 224.6L-1.5 200.1L6.3 191.9L-2.0 199.6L-27.6 224.1Z"/><path fill="#a81616" fill-opacity="0.12" d="M21.0 170.8L23.9 168.8L34.1 158.1L37.9 153.1L33.6 157.6L23.4 168.3ZM87.5 302.6L100.7 289.3L140.0 246.7L151.9 233.0L139.1 245.9L99.8 288.5ZM87.5 2.6L100.7 -10.7L140.0 -53.3L151.9 -67.0L139.1 -54.1L99.8 -11.5ZM224.9 297.4L232.4 290.5L264.0 257.7L274.3 245.9L263.1 256.8L231.6 289.7ZM224.9 -2.6L232.4 -9.5L264.0 -42.3L274.3 -54.1L263.1 -43.2L231.6 -10.3Z"/><path fill="#a81616" fill-opacity="0.13" d="M43.5 250.6L47.5 247.1L66.0 227.4L70.6 221.7L65.2 226.7L46.8 246.4ZM119.0 107.8L129.3 98.1L163.9 64.1L173.8 53.9L163.4 63.6L128.8 97.6ZM104.7 141.3L116.3 130.6L142.6 103.5L149.2 95.4L141.9 102.8L115.6 129.9ZM126.2 206.9L130.3 203.4L139.5 194.3L143.5 189.8L138.7 193.5L129.5 202.6ZM158.6 254.1L162.2 251.2L177.6 235.2L181.1 230.8L177.1 234.7L161.7 250.7ZM159.0 255.6L172.0 244.0L204.4 213.0L219.7 197.3L203.5 212.0L171.1 243.1ZM251.2 56.6L256.1 52.4L265.4 43.3L268.4 39.9L264.9 42.8L255.6 51.9Z"/><path fill="#a81616" fill-opacity="0.14" d="M38.5 209.7L51.4 196.5L92.3 152.4L105.1 137.9L91.7 151.9L50.8 196.0ZM64.7 245.8L69.7 241.1L81.1 229.0L87.5 221.6L80.6 228.5L69.2 240.6ZM154.8 14.4L158.5 11.4L169.9 0.7L172.5 -2.2L169.2 -0.1L157.8 10.6ZM154.8 314.4L158.5 311.4L169.9 300.7L172.5 297.8L169.2 299.9L157.8 310.6ZM143.5 334.1L155.3 322.8L196.2 279.7L211.6 262.3L195.6 279.1L154.6 322.2ZM143.5 34.1L155.3 22.8L196.2 -20.3L211.6 -37.7L195.6 -20.9L154.6 22.2ZM193.1 126.7L202.5 118.3L220.7 99.4L225.0 93.6L219.8 98.5L201.6 117.4ZM185.5 170.7L198.3 157.7L218.1 137.1L227.8 126.8L217.4 136.5L197.6 157.0ZM196.7 114.4L205.3 106.4L222.4 89.7L227.9 83.9L221.9 89.2L204.8 105.9ZM231.6 37.8L242.1 26.8L268.8 -1.5L274.0 -7.1L268.2 -2.1L241.4 26.2ZM231.6 337.8L242.1 326.8L268.8 298.5L274.0 292.9L268.2 297.9L241.4 326.2Z"/><path fill="#a81616" fill-opacity="0.15" d="M94.3 323.0L112.7 306.0L150.6 267.9L171.4 245.6L149.8 267.1L111.8 305.2ZM94.3 23.0L112.7 6.0L150.6 -32.1L171.4 -54.4L149.8 -32.9L111.8 5.2ZM288.6 278.3L292.8 274.5L301.6 265.3L305.2 260.9L300.7 264.4L291.9 273.6ZM-11.4 278.3L-7.2 274.5L1.6 265.3L5.2 260.9L0.7 264.4L-8.1 273.6Z"/><path fill="#a81616" fill-opacity="0.16" d="M52.7 273.7L57.6 269.3L69.1 257.2L71.1 254.3L68.6 256.7L57.1 268.8ZM78.2 282.4L82.4 279.6L94.5 267.9L98.7 262.7L93.8 267.1L81.7 278.8ZM85.6 37.8L93.7 30.2L140.9 -17.1L148.5 -25.3L140.3 -17.7L93.2 29.7ZM85.6 337.8L93.7 330.2L140.9 282.9L148.5 274.7L140.3 282.3L93.2 329.7ZM97.7 111.7L103.4 106.6L117.9 93.1L123.5 87.6L117.4 92.5L102.9 106.1ZM130.2 20.4L138.2 12.5L155.2 -4.3L160.5 -9.5L154.7 -4.9L137.6 11.9ZM130.2 320.4L138.2 312.5L155.2 295.7L160.5 290.5L154.7 295.1L137.6 311.9ZM204.6 97.2L212.7 90.2L226.8 77.1L233.6 70.2L226.3 76.5L212.2 89.6Z"/><path fill="#a81616" fill-opacity="0.17" d="M198.2 189.7L201.5 187.0L211.7 177.4L216.4 172.5L210.9 176.5L200.7 186.2ZM216.9 197.8L232.3 184.1L263.6 152.5L277.5 136.6L262.4 151.2L231.0 182.9ZM211.4 267.0L233.1 245.6L287.1 189.9L302.7 172.9L286.1 189.0L232.1 244.7ZM-88.6 267.0L-66.9 245.6L-12.9 189.9L2.7 172.9L-13.9 189.0L-67.9 244.7ZM223.8 295.8L241.0 278.6L284.6 232.2L301.3 213.4L283.9 231.6L240.3 278.0ZM-76.2 295.8L-59.0 278.6L-15.4 232.2L1.3 213.4L-16.1 231.6L-59.7 278.0ZM270.6 78.6L275.4 73.7L283.3 65.3L287.3 60.9L282.7 64.7L274.7 73.0Z"/><path fill="#a81616" fill-opacity="0.18" d="M1.5 43.2L7.4 38.3L23.9 21.5L32.1 12.2L23.2 20.8L6.7 37.6ZM301.5 43.2L307.4 38.3L323.9 21.5L332.1 12.2L323.2 20.8L306.7 37.6ZM68.2 223.3L77.6 215.4L96.3 197.7L99.6 193.4L95.4 196.8L76.7 214.5ZM153.4 83.3L166.7 71.6L196.2 44.0L206.4 33.8L195.4 43.1L165.8 70.8ZM158.6 212.8L163.6 209.1L176.1 197.2L178.9 193.3L175.4 196.5L163.0 208.5ZM174.5 173.5L178.0 171.1L193.1 157.1L197.8 152.0L192.6 156.6L177.5 170.6ZM218.7 13.8L223.4 10.5L233.1 1.2L237.6 -4.4L232.4 0.5L222.7 9.8ZM218.7 313.8L223.4 310.5L233.1 301.2L237.6 295.6L232.4 300.5L222.7 309.8Z"/><path fill="#a81616" fill-opacity="0.2" d="M26.7 121.8L31.3 117.1L44.6 103.6L47.6 100.5L44.1 103.1L30.8 116.6ZM11.8 230.0L35.2 207.5L73.6 168.8L92.0 149.1L72.7 167.9L34.3 206.6ZM69.6 103.8L78.0 96.6L91.8 83.9L100.8 75.1L91.3 83.4L77.6 96.1Z"/><path fill="#a81616" fill-opacity="0.21" d="M83.8 72.9L90.9 67.5L113.5 44.3L120.3 35.2L111.9 42.8L89.4 66.1ZM94.6 164.1L109.8 150.0L136.7 123.6L146.8 112.8L135.4 122.2L108.5 148.7ZM272.7 64.3L278.5 58.4L286.7 50.2L292.6 44.0L286.2 49.7L278.0 57.9Z"/><path fill="#a81616" fill-opacity="0.22" d="M42.3 120.2L59.8 105.4L97.8 69.7L105.0 61.3L96.3 68.1L58.3 103.8ZM93.2 145.3L96.6 142.7L109.0 130.0L111.6 126.5L108.2 129.3L95.9 141.9ZM153.7 229.5L159.3 226.0L167.6 218.4L171.9 212.6L166.1 216.8L157.8 224.5ZM177.7 25.2L184.9 18.8L200.8 2.7L204.1 -1.5L200.0 2.0L184.1 18.0ZM177.7 325.2L184.9 318.8L200.8 302.7L204.1 298.5L200.0 302.0L184.1 318.0ZM248.3 154.4L258.9 145.2L277.2 127.7L286.0 118.2L276.2 126.7L258.0 144.3Z"/><path fill="#a81616" fill-opacity="0.23" d="M64.0 32.3L72.5 24.7L97.3 0.1L109.5 -12.6L96.4 -0.8L71.5 23.8ZM64.0 332.3L72.5 324.7L97.3 300.1L109.5 287.4L96.4 299.2L71.5 323.8ZM95.1 239.9L99.0 237.8L110.6 227.0L115.0 221.3L109.1 225.4L97.5 236.3ZM92.7 244.5L114.7 224.7L156.1 185.7L165.1 176.3L155.5 185.0L114.1 224.0Z"/><path fill="#a81616" fill-opacity="0.24" d="M47.0 65.2L51.5 61.5L62.2 50.3L67.5 43.9L61.7 49.8L51.0 61.0ZM68.2 118.2L77.0 110.0L119.5 68.8L137.8 50.7L118.8 68.0L76.2 109.2ZM119.8 62.9L130.4 52.2L149.7 31.2L158.0 21.4L149.1 30.7L129.8 51.7ZM196.9 213.8L205.6 206.2L236.7 176.8L243.3 169.7L236.0 176.1L205.0 205.6ZM250.2 104.7L252.9 102.4L265.5 89.6L267.5 87.2L264.9 89.0L252.2 101.8Z"/><path fill="#a81616" fill-opacity="0.25" d="M-1.8 137.2L1.4 135.1L13.7 123.0L15.6 120.1L13.1 122.3L0.8 134.4ZM298.2 137.2L301.4 135.1L313.7 123.0L315.6 120.1L313.1 122.3L300.8 134.4ZM-0.5 306.7L4.6 301.5L14.2 291.3L18.7 286.3L13.7 290.9L4.1 301.1ZM-0.5 6.7L4.6 1.5L14.2 -8.7L18.7 -13.7L13.7 -9.1L4.1 1.1ZM299.5 306.7L304.6 301.5L314.2 291.3L318.7 286.3L313.7 290.9L304.1 301.1ZM299.5 6.7L304.6 1.5L314.2 -8.7L318.7 -13.7L313.7 -9.1L304.1 1.1ZM13.1 22.2L24.0 11.8L41.4 -6.0L51.3 -16.8L40.8 -6.7L23.3 11.1ZM13.1 322.2L24.0 311.8L41.4 294.0L51.3 283.2L40.8 293.3L23.3 311.1ZM244.9 105.1L255.1 95.8L271.9 79.0L281.0 69.0L271.1 78.2L254.3 95.0Z"/><path fill="#a81616" fill-opacity="0.26" d="M30.0 305.0L42.4 294.2L64.8 272.7L71.9 264.9L63.5 271.2L41.0 292.7ZM30.0 5.0L42.4 -5.8L64.8 -27.3L71.9 -35.1L63.5 -28.8L41.0 -7.3ZM93.8 212.8L97.2 211.1L108.7 199.3L111.5 194.6L107.4 198.0L95.9 209.8Z"/><path fill="#a81616" fill-opacity="0.27" d="M279.4 148.0L291.3 136.4L313.9 112.2L320.4 104.2L312.5 111.0L289.9 135.1ZM-20.6 148.0L-8.7 136.4L13.9 112.2L20.4 104.2L12.5 111.0L-10.1 135.1Z"/><path fill="#a81616" fill-opacity="0.28" d="M110.1 208.1L122.2 196.4L171.7 144.1L187.9 126.0L170.1 142.6L120.6 194.9Z"/><path fill="#a81616" fill-opacity="0.3" d="M35.0 192.6L41.8 187.7L75.5 156.0L83.8 146.8L74.3 154.8L40.6 186.4Z"/></pattern>
<pattern id="sk-violet" width="300" height="300" patternUnits="userSpaceOnUse"><path fill="#3a22e0" fill-opacity="0.12" d="M-17.8 71.0L-5.6 59.0L39.9 12.2L59.5 -8.4L39.4 11.7L-6.2 58.5ZM-17.8 371.0L-5.6 359.0L39.9 312.2L59.5 291.6L39.4 311.7L-6.2 358.5ZM282.2 71.0L294.4 59.0L339.9 12.2L359.5 -8.4L339.4 11.7L293.8 58.5ZM282.2 371.0L294.4 359.0L339.9 312.2L359.5 291.6L339.4 311.7L293.8 358.5Z"/><path fill="#3a22e0" fill-opacity="0.13" d="M159.8 92.6L163.6 88.9L175.0 76.5L178.2 72.6L174.0 75.7L162.7 88.0Z"/><path fill="#3a22e0" fill-opacity="0.14" d="M43.2 275.2L49.8 269.7L64.5 254.8L69.6 248.5L63.7 253.9L48.9 268.8ZM163.5 64.1L168.6 59.5L188.5 37.9L197.8 26.8L187.6 37.1L167.7 58.7ZM177.7 84.8L196.9 67.6L230.2 36.7L242.4 24.5L229.4 35.8L196.2 66.7ZM188.2 284.6L195.4 277.9L226.5 247.3L237.5 236.1L225.8 246.5L194.7 277.1Z"/><path fill="#3a22e0" fill-opacity="0.15" d="M-9.2 271.9L-4.0 267.2L16.6 245.8L19.9 241.6L15.8 245.0L-4.8 266.4ZM290.8 271.9L296.0 267.2L316.6 245.8L319.9 241.6L315.8 245.0L295.2 266.4ZM105.2 170.8L109.4 167.4L122.6 154.9L129.0 148.1L121.7 153.9L108.5 166.4ZM241.7 210.2L248.1 204.8L274.4 180.7L282.6 172.7L273.7 180.0L247.5 204.1Z"/><path fill="#3a22e0" fill-opacity="0.16" d="M3.2 181.4L13.5 171.8L57.3 129.7L73.7 113.7L56.8 129.2L13.0 171.3ZM303.2 181.4L313.5 171.8L357.3 129.7L373.7 113.7L356.8 129.2L313.0 171.3ZM277.1 302.4L285.3 295.3L302.1 277.9L309.8 268.6L301.1 277.0L284.3 294.3ZM277.1 2.4L285.3 -4.7L302.1 -22.1L309.8 -31.4L301.1 -23.0L284.3 -5.7ZM-22.9 302.4L-14.7 295.3L2.1 277.9L9.8 268.6L1.1 277.0L-15.7 294.3ZM-22.9 2.4L-14.7 -4.7L2.1 -22.1L9.8 -31.4L1.1 -23.0L-15.7 -5.7Z"/><path fill="#3a22e0" fill-opacity="0.17" d="M129.4 145.9L142.0 133.5L162.2 112.9L174.9 99.3L161.5 112.2L141.3 132.8ZM186.2 84.3L197.3 73.5L218.7 51.2L227.8 40.8L218.1 50.6L196.7 72.9ZM211.9 174.9L219.7 168.8L243.3 147.1L250.7 139.3L242.5 146.2L218.8 167.9ZM282.1 134.6L289.3 129.0L306.0 112.9L313.9 104.0L305.1 112.0L288.4 128.1ZM-17.9 134.6L-10.7 129.0L6.0 112.9L13.9 104.0L5.1 112.0L-11.6 128.1ZM275.7 192.6L283.2 185.9L301.5 168.5L306.0 163.7L300.7 167.7L282.4 185.0ZM-24.3 192.6L-16.8 185.9L1.5 168.5L6.0 163.7L0.7 167.7L-17.6 185.0Z"/><path fill="#3a22e0" fill-opacity="0.18" d="M186.4 298.5L193.1 292.3L216.3 270.0L221.7 264.6L215.5 269.2L192.3 291.5ZM186.4 -1.5L193.1 -7.7L216.3 -30.0L221.7 -35.4L215.5 -30.8L192.3 -8.5ZM257.5 24.9L271.9 11.2L297.6 -13.3L306.3 -21.7L296.9 -13.9L271.3 10.6ZM257.5 324.9L271.9 311.2L297.6 286.7L306.3 278.3L296.9 286.1L271.3 310.6ZM-42.5 24.9L-28.1 11.2L-2.4 -13.3L6.3 -21.7L-3.1 -13.9L-28.7 10.6ZM-42.5 324.9L-28.1 311.2L-2.4 286.7L6.3 278.3L-3.1 286.1L-28.7 310.6Z"/><path fill="#3a22e0" fill-opacity="0.19" d="M-3.8 132.3L6.0 123.7L25.0 104.7L30.3 98.2L24.3 104.0L5.3 123.0ZM296.2 132.3L306.0 123.7L325.0 104.7L330.3 98.2L324.3 104.0L305.3 123.0ZM60.1 79.6L71.9 68.5L99.8 41.7L110.2 31.4L99.1 41.0L71.2 67.8ZM31.6 168.4L46.5 154.0L87.5 113.2L100.3 100.1L86.9 112.7L46.0 153.5ZM270.0 225.7L282.2 214.8L301.4 196.3L309.8 187.3L300.7 195.5L281.5 214.0ZM-30.0 225.7L-17.8 214.8L1.4 196.3L9.8 187.3L0.7 195.5L-18.5 214.0ZM265.6 230.9L272.9 224.6L298.5 200.1L306.3 191.9L298.0 199.6L272.4 224.1ZM-34.4 230.9L-27.1 224.6L-1.5 200.1L6.3 191.9L-2.0 199.6L-27.6 224.1Z"/><path fill="#3a22e0" fill-opacity="0.2" d="M21.0 170.8L23.9 168.8L34.1 158.1L37.9 153.1L33.6 157.6L23.4 168.3ZM87.5 302.6L100.7 289.3L140.0 246.7L151.9 233.0L139.1 245.9L99.8 288.5ZM87.5 2.6L100.7 -10.7L140.0 -53.3L151.9 -67.0L139.1 -54.1L99.8 -11.5ZM224.9 297.4L232.4 290.5L264.0 257.7L274.3 245.9L263.1 256.8L231.6 289.7ZM224.9 -2.6L232.4 -9.5L264.0 -42.3L274.3 -54.1L263.1 -43.2L231.6 -10.3Z"/><path fill="#3a22e0" fill-opacity="0.21" d="M119.0 107.8L129.3 98.1L163.9 64.1L173.8 53.9L163.4 63.6L128.8 97.6ZM126.2 206.9L130.3 203.4L139.5 194.3L143.5 189.8L138.7 193.5L129.5 202.6ZM158.6 254.1L162.2 251.2L177.6 235.2L181.1 230.8L177.1 234.7L161.7 250.7ZM159.0 255.6L172.0 244.0L204.4 213.0L219.7 197.3L203.5 212.0L171.1 243.1Z"/><path fill="#3a22e0" fill-opacity="0.22" d="M43.5 250.6L47.5 247.1L66.0 227.4L70.6 221.7L65.2 226.7L46.8 246.4ZM104.7 141.3L116.3 130.6L142.6 103.5L149.2 95.4L141.9 102.8L115.6 129.9ZM251.2 56.6L256.1 52.4L265.4 43.3L268.4 39.9L264.9 42.8L255.6 51.9Z"/><path fill="#3a22e0" fill-opacity="0.23" d="M64.7 245.8L69.7 241.1L81.1 229.0L87.5 221.6L80.6 228.5L69.2 240.6ZM143.5 334.1L155.3 322.8L196.2 279.7L211.6 262.3L195.6 279.1L154.6 322.2ZM143.5 34.1L155.3 22.8L196.2 -20.3L211.6 -37.7L195.6 -20.9L154.6 22.2ZM193.1 126.7L202.5 118.3L220.7 99.4L225.0 93.6L219.8 98.5L201.6 117.4ZM185.5 170.7L198.3 157.7L218.1 137.1L227.8 126.8L217.4 136.5L197.6 157.0ZM196.7 114.4L205.3 106.4L222.4 89.7L227.9 83.9L221.9 89.2L204.8 105.9ZM231.6 37.8L242.1 26.8L268.8 -1.5L274.0 -7.1L268.2 -2.1L241.4 26.2ZM231.6 337.8L242.1 326.8L268.8 298.5L274.0 292.9L268.2 297.9L241.4 326.2Z"/><path fill="#3a22e0" fill-opacity="0.24" d="M38.5 209.7L51.4 196.5L92.3 152.4L105.1 137.9L91.7 151.9L50.8 196.0ZM94.3 323.0L112.7 306.0L150.6 267.9L171.4 245.6L149.8 267.1L111.8 305.2ZM94.3 23.0L112.7 6.0L150.6 -32.1L171.4 -54.4L149.8 -32.9L111.8 5.2ZM154.8 14.4L158.5 11.4L169.9 0.7L172.5 -2.2L169.2 -0.1L157.8 10.6ZM154.8 314.4L158.5 311.4L169.9 300.7L172.5 297.8L169.2 299.9L157.8 310.6Z"/><path fill="#3a22e0" fill-opacity="0.26" d="M52.7 273.7L57.6 269.3L69.1 257.2L71.1 254.3L68.6 256.7L57.1 268.8ZM97.7 111.7L103.4 106.6L117.9 93.1L123.5 87.6L117.4 92.5L102.9 106.1ZM130.2 20.4L138.2 12.5L155.2 -4.3L160.5 -9.5L154.7 -4.9L137.6 11.9ZM130.2 320.4L138.2 312.5L155.2 295.7L160.5 290.5L154.7 295.1L137.6 311.9ZM288.6 278.3L292.8 274.5L301.6 265.3L305.2 260.9L300.7 264.4L291.9 273.6ZM-11.4 278.3L-7.2 274.5L1.6 265.3L5.2 260.9L0.7 264.4L-8.1 273.6Z"/><path fill="#3a22e0" fill-opacity="0.27" d="M78.2 282.4L82.4 279.6L94.5 267.9L98.7 262.7L93.8 267.1L81.7 278.8ZM85.6 37.8L93.7 30.2L140.9 -17.1L148.5 -25.3L140.3 -17.7L93.2 29.7ZM85.6 337.8L93.7 330.2L140.9 282.9L148.5 274.7L140.3 282.3L93.2 329.7ZM204.6 97.2L212.7 90.2L226.8 77.1L233.6 70.2L226.3 76.5L212.2 89.6Z"/><path fill="#3a22e0" fill-opacity="0.28" d="M198.2 189.7L201.5 187.0L211.7 177.4L216.4 172.5L210.9 176.5L200.7 186.2ZM223.8 295.8L241.0 278.6L284.6 232.2L301.3 213.4L283.9 231.6L240.3 278.0ZM-76.2 295.8L-59.0 278.6L-15.4 232.2L1.3 213.4L-16.1 231.6L-59.7 278.0ZM270.6 78.6L275.4 73.7L283.3 65.3L287.3 60.9L282.7 64.7L274.7 73.0Z"/><path fill="#3a22e0" fill-opacity="0.29" d="M1.5 43.2L7.4 38.3L23.9 21.5L32.1 12.2L23.2 20.8L6.7 37.6ZM301.5 43.2L307.4 38.3L323.9 21.5L332.1 12.2L323.2 20.8L306.7 37.6ZM153.4 83.3L166.7 71.6L196.2 44.0L206.4 33.8L195.4 43.1L165.8 70.8ZM216.9 197.8L232.3 184.1L263.6 152.5L277.5 136.6L262.4 151.2L231.0 182.9ZM211.4 267.0L233.1 245.6L287.1 189.9L302.7 172.9L286.1 189.0L232.1 244.7ZM-88.6 267.0L-66.9 245.6L-12.9 189.9L2.7 172.9L-13.9 189.0L-67.9 244.7Z"/><path fill="#3a22e0" fill-opacity="0.3" d="M68.2 223.3L77.6 215.4L96.3 197.7L99.6 193.4L95.4 196.8L76.7 214.5ZM158.6 212.8L163.6 209.1L176.1 197.2L178.9 193.3L175.4 196.5L163.0 208.5ZM174.5 173.5L178.0 171.1L193.1 157.1L197.8 152.0L192.6 156.6L177.5 170.6ZM218.7 13.8L223.4 10.5L233.1 1.2L237.6 -4.4L232.4 0.5L222.7 9.8ZM218.7 313.8L223.4 310.5L233.1 301.2L237.6 295.6L232.4 300.5L222.7 309.8Z"/><path fill="#3a22e0" fill-opacity="0.33" d="M26.7 121.8L31.3 117.1L44.6 103.6L47.6 100.5L44.1 103.1L30.8 116.6ZM69.6 103.8L78.0 96.6L91.8 83.9L100.8 75.1L91.3 83.4L77.6 96.1Z"/><path fill="#3a22e0" fill-opacity="0.34" d="M11.8 230.0L35.2 207.5L73.6 168.8L92.0 149.1L72.7 167.9L34.3 206.6ZM94.6 164.1L109.8 150.0L136.7 123.6L146.8 112.8L135.4 122.2L108.5 148.7Z"/><path fill="#3a22e0" fill-opacity="0.35" d="M83.8 72.9L90.9 67.5L113.5 44.3L120.3 35.2L111.9 42.8L89.4 66.1ZM272.7 64.3L278.5 58.4L286.7 50.2L292.6 44.0L286.2 49.7L278.0 57.9Z"/><path fill="#3a22e0" fill-opacity="0.36" d="M42.3 120.2L59.8 105.4L97.8 69.7L105.0 61.3L96.3 68.1L58.3 103.8ZM177.7 25.2L184.9 18.8L200.8 2.7L204.1 -1.5L200.0 2.0L184.1 18.0ZM177.7 325.2L184.9 318.8L200.8 302.7L204.1 298.5L200.0 302.0L184.1 318.0ZM248.3 154.4L258.9 145.2L277.2 127.7L286.0 118.2L276.2 126.7L258.0 144.3Z"/><path fill="#3a22e0" fill-opacity="0.37" d="M93.2 145.3L96.6 142.7L109.0 130.0L111.6 126.5L108.2 129.3L95.9 141.9Z"/><path fill="#3a22e0" fill-opacity="0.38" d="M64.0 32.3L72.5 24.7L97.3 0.1L109.5 -12.6L96.4 -0.8L71.5 23.8ZM64.0 332.3L72.5 324.7L97.3 300.1L109.5 287.4L96.4 299.2L71.5 323.8ZM153.7 229.5L159.3 226.0L167.6 218.4L171.9 212.6L166.1 216.8L157.8 224.5Z"/><path fill="#3a22e0" fill-opacity="0.39" d="M95.1 239.9L99.0 237.8L110.6 227.0L115.0 221.3L109.1 225.4L97.5 236.3ZM92.7 244.5L114.7 224.7L156.1 185.7L165.1 176.3L155.5 185.0L114.1 224.0Z"/><path fill="#3a22e0" fill-opacity="0.4" d="M68.2 118.2L77.0 110.0L119.5 68.8L137.8 50.7L118.8 68.0L76.2 109.2ZM119.8 62.9L130.4 52.2L149.7 31.2L158.0 21.4L149.1 30.7L129.8 51.7ZM250.2 104.7L252.9 102.4L265.5 89.6L267.5 87.2L264.9 89.0L252.2 101.8Z"/><path fill="#3a22e0" fill-opacity="0.41" d="M-1.8 137.2L1.4 135.1L13.7 123.0L15.6 120.1L13.1 122.3L0.8 134.4ZM298.2 137.2L301.4 135.1L313.7 123.0L315.6 120.1L313.1 122.3L300.8 134.4ZM13.1 22.2L24.0 11.8L41.4 -6.0L51.3 -16.8L40.8 -6.7L23.3 11.1ZM13.1 322.2L24.0 311.8L41.4 294.0L51.3 283.2L40.8 293.3L23.3 311.1ZM47.0 65.2L51.5 61.5L62.2 50.3L67.5 43.9L61.7 49.8L51.0 61.0ZM196.9 213.8L205.6 206.2L236.7 176.8L243.3 169.7L236.0 176.1L205.0 205.6Z"/><path fill="#3a22e0" fill-opacity="0.42" d="M-0.5 306.7L4.6 301.5L14.2 291.3L18.7 286.3L13.7 290.9L4.1 301.1ZM-0.5 6.7L4.6 1.5L14.2 -8.7L18.7 -13.7L13.7 -9.1L4.1 1.1ZM299.5 306.7L304.6 301.5L314.2 291.3L318.7 286.3L313.7 290.9L304.1 301.1ZM299.5 6.7L304.6 1.5L314.2 -8.7L318.7 -13.7L313.7 -9.1L304.1 1.1ZM244.9 105.1L255.1 95.8L271.9 79.0L281.0 69.0L271.1 78.2L254.3 95.0Z"/><path fill="#3a22e0" fill-opacity="0.44" d="M30.0 305.0L42.4 294.2L64.8 272.7L71.9 264.9L63.5 271.2L41.0 292.7ZM30.0 5.0L42.4 -5.8L64.8 -27.3L71.9 -35.1L63.5 -28.8L41.0 -7.3ZM93.8 212.8L97.2 211.1L108.7 199.3L111.5 194.6L107.4 198.0L95.9 209.8Z"/><path fill="#3a22e0" fill-opacity="0.46" d="M279.4 148.0L291.3 136.4L313.9 112.2L320.4 104.2L312.5 111.0L289.9 135.1ZM-20.6 148.0L-8.7 136.4L13.9 112.2L20.4 104.2L12.5 111.0L-10.1 135.1Z"/><path fill="#3a22e0" fill-opacity="0.47" d="M110.1 208.1L122.2 196.4L171.7 144.1L187.9 126.0L170.1 142.6L120.6 194.9Z"/><path fill="#3a22e0" fill-opacity="0.5" d="M35.0 192.6L41.8 187.7L75.5 156.0L83.8 146.8L74.3 154.8L40.6 186.4Z"/></pattern>
</defs>

<path d="M63.5 63.4C1272.8 51.6 2482.2 51.6 3691.5 64.0L3691.5 63.0C3694.9 1237.0 3694.9 2411.0 3691.0 3585.0L3691.5 3583.0C3631.0 3585.0 3449.6 3592.1 3328.7 3595.1C3207.8 3598.0 3098.9 3599.5 2965.9 3600.8C2832.9 3602.2 2651.5 3602.9 2530.5 3603.3C2409.6 3603.7 2349.1 3603.2 2240.3 3603.0C2131.5 3602.8 1971.8 3602.4 1877.5 3602.0C1783.2 3601.7 1766.8 3601.3 1674.3 3600.8C1581.8 3600.3 1470.0 3600.0 1322.4 3599.1C1174.9 3598.2 948.1 3596.6 789.1 3595.2C630.1 3593.9 489.2 3592.9 368.3 3591.2C247.3 3589.5 114.3 3586.0 63.5 3585.0L62.5 3585.0C43.7 2411.0 43.7 1237.0 63.5 63.0Z" fill="#1e1e2e"/><path d="M63.5 63.4C1272.8 51.6 2482.2 51.6 3691.5 64.0L3691.5 63.0C3694.9 1237.0 3694.9 2411.0 3691.0 3585.0L3691.5 3583.0C3631.0 3585.0 3449.6 3592.1 3328.7 3595.1C3207.8 3598.0 3098.9 3599.5 2965.9 3600.8C2832.9 3602.2 2651.5 3602.9 2530.5 3603.3C2409.6 3603.7 2349.1 3603.2 2240.3 3603.0C2131.5 3602.8 1971.8 3602.4 1877.5 3602.0C1783.2 3601.7 1766.8 3601.3 1674.3 3600.8C1581.8 3600.3 1470.0 3600.0 1322.4 3599.1C1174.9 3598.2 948.1 3596.6 789.1 3595.2C630.1 3593.9 489.2 3592.9 368.3 3591.2C247.3 3589.5 114.3 3586.0 63.5 3585.0L62.5 3585.0C43.7 2411.0 43.7 1237.0 63.5 63.0Z" fill="url(#sk-dark)"/><path d="M63.5 63.4C1272.8 51.6 2482.2 51.6 3691.5 64.0M63.5 63.0C1272.8 58.0 2482.2 58.0 3691.5 64.0M3691.5 63.0C3682.0 1237.0 3679.9 2411.0 3691.0 3585.0M3691.5 61.0C3694.9 1235.7 3694.9 2410.3 3691.0 3585.0M63.5 63.0C43.7 1237.0 43.7 2411.0 62.5 3585.0M63.5 63.0C45.7 1237.0 45.7 2411.0 62.5 3585.0" fill="none" stroke="#6366f1" stroke-width="6" stroke-linecap="square"/><path d="M63.5 65.5C1272.8 65.8 2482.2 65.8 3691.5 65.5" fill="none" stroke="#6366f1" stroke-width="2.2" stroke-linecap="square"/><path d="M63.5 3585.0C1272.8 3586.4 2482.2 3586.4 3691.5 3583.0M63.5 3585.0C114.3 3586.0 247.3 3589.5 368.3 3591.2C489.2 3592.9 630.1 3593.9 789.1 3595.2C948.1 3596.6 1174.9 3598.2 1322.4 3599.1C1470.0 3600.0 1581.8 3600.3 1674.3 3600.8C1766.8 3601.3 1783.2 3601.7 1877.5 3602.0C1971.8 3602.4 2131.5 3602.8 2240.3 3603.0C2349.1 3603.2 2409.6 3603.7 2530.5 3603.3C2651.5 3602.9 2832.9 3602.2 2965.9 3600.8C3098.9 3599.5 3207.8 3598.0 3328.7 3595.1C3449.6 3592.1 3631.0 3585.0 3691.5 3583.0" fill="none" stroke="#6366f1" stroke-width="7.5" stroke-linecap="square"/>
<text x="1877.5" y="161.5" font-size="84" fill="#6366f1" text-anchor="middle" stroke="#6366f1" stroke-width="0.7" stroke-linejoin="round" textLength="697.05" lengthAdjust="spacingAndGlyphs">Pipeline Timeline</text>
<path d="M317.7 211.8C1356.6 203.3 2395.6 203.3 3434.5 212.8L3435.1 213.0C3435.0 479.0 3435.0 745.0 3434.8 1011.0L3434.5 1010.5C3382.6 1012.1 3226.7 1017.8 3122.8 1020.3C3018.9 1022.9 2925.4 1024.4 2811.1 1025.7C2696.9 1027.0 2541.0 1027.6 2437.1 1028.0C2333.2 1028.3 2281.3 1027.9 2187.8 1027.7C2094.3 1027.5 1957.1 1027.1 1876.1 1026.8C1795.1 1026.5 1781.0 1026.1 1701.6 1025.7C1622.1 1025.2 1526.0 1024.9 1399.2 1024.1C1272.5 1023.2 1077.7 1021.7 941.1 1020.5C804.4 1019.3 683.4 1017.6 579.5 1016.8C475.6 1015.9 361.3 1015.7 317.7 1015.5L317.4 1011.0C310.1 745.0 310.1 479.0 317.2 213.0Z" fill="#6366f1"/><path d="M317.7 211.8C1356.6 203.3 2395.6 203.3 3434.5 212.8L3435.1 213.0C3435.0 479.0 3435.0 745.0 3434.8 1011.0L3434.5 1010.5C3382.6 1012.1 3226.7 1017.8 3122.8 1020.3C3018.9 1022.9 2925.4 1024.4 2811.1 1025.7C2696.9 1027.0 2541.0 1027.6 2437.1 1028.0C2333.2 1028.3 2281.3 1027.9 2187.8 1027.7C2094.3 1027.5 1957.1 1027.1 1876.1 1026.8C1795.1 1026.5 1781.0 1026.1 1701.6 1025.7C1622.1 1025.2 1526.0 1024.9 1399.2 1024.1C1272.5 1023.2 1077.7 1021.7 941.1 1020.5C804.4 1019.3 683.4 1017.6 579.5 1016.8C475.6 1015.9 361.3 1015.7 317.7 1015.5L317.4 1011.0C310.1 745.0 310.1 479.0 317.2 213.0Z" fill="url(#sk-blue)"/><path d="M317.7 211.8C1356.6 203.3 2395.6 203.3 3434.5 212.8M317.7 212.0C1356.6 207.0 2395.6 207.0 3434.5 217.5M3434.0 213.0C3430.9 479.0 3430.9 745.0 3434.0 1011.0M3435.1 209.0C3435.0 476.3 3435.0 743.7 3434.8 1011.0M317.7 1010.6C1356.6 1011.2 2395.6 1011.3 3434.5 1006.0M317.7 1012.0C1356.6 1013.6 2395.6 1013.6 3434.5 1010.5M317.2 213.0C310.1 479.0 310.1 745.0 317.4 1011.0M318.2 213.0C310.6 479.0 310.6 745.0 317.9 1011.0" fill="none" stroke="#cba6f7" stroke-width="6" stroke-linecap="square"/><path d="M317.7 215.5C1356.6 215.6 2395.6 215.6 3434.5 216.0" fill="none" stroke="#cba6f7" stroke-width="2.8" stroke-linecap="square"/><path d="M317.7 1015.5C361.3 1015.7 475.6 1015.9 579.5 1016.8C683.4 1017.6 804.4 1019.3 941.1 1020.5C1077.7 1021.7 1272.5 1023.2 1399.2 1024.1C1526.0 1024.9 1622.1 1025.2 1701.6 1025.7C1781.0 1026.1 1795.1 1026.5 1876.1 1026.8C1957.1 1027.1 2094.3 1027.5 2187.8 1027.7C2281.3 1027.9 2333.2 1028.3 2437.1 1028.0C2541.0 1027.6 2696.9 1027.0 2811.1 1025.7C2925.4 1024.4 3018.9 1022.9 3122.8 1020.3C3226.7 1017.8 3382.6 1012.1 3434.5 1010.5" fill="none" stroke="#cba6f7" stroke-width="6.5" stroke-linecap="square"/>
<text x="1876" y="299" font-size="72" fill="#ffffff" text-anchor="middle" stroke="#ffffff" stroke-width="0.7" stroke-linejoin="round" textLength="714.61" lengthAdjust="spacingAndGlyphs">PR Created (10:00)</text>
<path d="M467.7 361.8C1406.6 354.2 2345.6 354.2 3284.5 362.8L3285.1 363.0C3284.8 529.0 3284.8 695.0 3284.8 861.0L3284.5 860.5C3237.6 862.0 3096.7 867.1 3002.8 869.4C2908.9 871.7 2824.4 873.1 2721.1 874.3C2617.9 875.4 2477.0 876.0 2383.1 876.4C2289.2 876.7 2242.3 876.3 2157.8 876.1C2073.3 875.9 1949.3 875.6 1876.1 875.3C1802.9 875.0 1790.2 874.7 1718.4 874.3C1646.5 873.9 1559.7 873.6 1445.1 872.8C1330.6 872.0 1154.5 870.7 1031.1 869.6C907.6 868.5 798.2 866.9 704.3 866.2C610.4 865.5 507.1 865.6 467.7 865.5L467.4 861.0C461.7 695.0 461.7 529.0 467.2 363.0Z" fill="#282a36"/><path d="M467.7 361.8C1406.6 354.2 2345.6 354.2 3284.5 362.8L3285.1 363.0C3284.8 529.0 3284.8 695.0 3284.8 861.0L3284.5 860.5C3237.6 862.0 3096.7 867.1 3002.8 869.4C2908.9 871.7 2824.4 873.1 2721.1 874.3C2617.9 875.4 2477.0 876.0 2383.1 876.4C2289.2 876.7 2242.3 876.3 2157.8 876.1C2073.3 875.9 1949.3 875.6 1876.1 875.3C1802.9 875.0 1790.2 874.7 1718.4 874.3C1646.5 873.9 1559.7 873.6 1445.1 872.8C1330.6 872.0 1154.5 870.7 1031.1 869.6C907.6 868.5 798.2 866.9 704.3 866.2C610.4 865.5 507.1 865.6 467.7 865.5L467.4 861.0C461.7 695.0 461.7 529.0 467.2 363.0Z" fill="url(#sk-dark)"/><path d="M467.7 361.8C1406.6 354.2 2345.6 354.2 3284.5 362.8M467.7 362.0C1406.6 357.9 2345.6 357.9 3284.5 367.5M3284.0 363.0C3281.7 529.0 3281.7 695.0 3284.0 861.0M3285.1 359.0C3284.8 526.3 3284.8 693.7 3284.8 861.0M467.7 860.6C1406.6 861.2 2345.6 861.3 3284.5 856.0M467.7 862.0C1406.6 863.6 2345.6 863.6 3284.5 860.5M467.2 363.0C461.7 529.0 461.7 695.0 467.4 861.0M468.2 363.0C462.1 529.0 462.1 695.0 467.9 861.0" fill="none" stroke="#cba6f7" stroke-width="6" stroke-linecap="square"/><path d="M467.7 365.5C1406.6 365.6 2345.6 365.6 3284.5 366.0" fill="none" stroke="#cba6f7" stroke-width="2.8" stroke-linecap="square"/><path d="M467.7 865.5C507.1 865.6 610.4 865.5 704.3 866.2C798.2 866.9 907.6 868.5 1031.1 869.6C1154.5 870.7 1330.6 872.0 1445.1 872.8C1559.7 873.6 1646.5 873.9 1718.4 874.3C1790.2 874.7 1802.9 875.0 1876.1 875.3C1949.3 875.6 2073.3 875.9 2157.8 876.1C2242.3 876.3 2289.2 876.7 2383.1 876.4C2477.0 876.0 2617.9 875.4 2721.1 874.3C2824.4 873.1 2908.9 871.7 3002.8 869.4C3096.7 867.1 3237.6 862.0 3284.5 860.5" fill="none" stroke="#cba6f7" stroke-width="6.5" stroke-linecap="square"/>
<text x="1876" y="438" font-size="60" fill="#cdd6f4" text-anchor="middle" stroke="#cdd6f4" stroke-width="0.7" stroke-linejoin="round" textLength="422.53" lengthAdjust="spacingAndGlyphs">CI runs: 5 min</text>
<path d="M617.5 510.5C755.7 510.9 893.8 510.9 1032.0 512.0L1033.5 513.0C1032.5 579.0 1032.5 645.0 1031.5 711.0L1032.0 709.5C893.8 717.4 755.7 717.4 617.5 715.5L617.2 711.0C616.5 645.0 616.5 579.0 616.1 513.0Z" fill="#10b981"/><path d="M617.5 510.5C755.7 510.9 893.8 510.9 1032.0 512.0L1033.5 513.0C1032.5 579.0 1032.5 645.0 1031.5 711.0L1032.0 709.5C893.8 717.4 755.7 717.4 617.5 715.5L617.2 711.0C616.5 645.0 616.5 579.0 616.1 513.0Z" fill="url(#sk-green)"/><path d="M617.5 510.5C755.7 510.9 893.8 510.9 1032.0 512.0L1032.0 518.0C893.8 512.4 755.7 512.4 617.5 515.5ZM617.5 710.0C755.7 708.1 893.8 708.1 1032.0 705.5L1032.0 709.5C893.8 717.4 755.7 717.4 617.5 715.5Z" fill="#cba6f7"/><path d="M617.5 510.5C755.7 510.9 893.8 510.9 1032.0 512.0M617.5 515.5C755.7 512.4 893.8 512.4 1032.0 518.0M1030.3 513.0C1030.3 579.0 1030.3 645.0 1030.3 711.0M1033.5 509.0C1032.5 576.3 1032.5 643.7 1031.5 711.0M617.5 710.0C755.7 708.1 893.8 708.1 1032.0 705.5M617.5 715.5C755.7 717.4 893.8 717.4 1032.0 709.5M616.1 513.0C616.5 579.0 616.5 645.0 617.2 711.0M618.8 513.0C618.3 579.0 618.3 645.0 617.7 711.0" fill="none" stroke="#cba6f7" stroke-width="6" stroke-linecap="square"/>
<text x="824.75" y="628" font-size="48" fill="#ffffff" text-anchor="middle" font-weight="700" stroke="#ffffff" stroke-width="2" stroke-linejoin="round" textLength="274.91" lengthAdjust="spacingAndGlyphs">Build: 1 min</text>
<path d="M1088.3 510.5C1269.7 510.9 1451.1 510.9 1632.5 512.0L1634.0 513.0C1633.0 579.0 1633.0 645.0 1632.0 711.0L1632.5 709.5C1451.1 717.4 1269.7 717.4 1088.3 715.5L1088.0 711.0C1087.2 645.0 1087.2 579.0 1086.9 513.0Z" fill="#10b981"/><path d="M1088.3 510.5C1269.7 510.9 1451.1 510.9 1632.5 512.0L1634.0 513.0C1633.0 579.0 1633.0 645.0 1632.0 711.0L1632.5 709.5C1451.1 717.4 1269.7 717.4 1088.3 715.5L1088.0 711.0C1087.2 645.0 1087.2 579.0 1086.9 513.0Z" fill="url(#sk-green)"/><path d="M1088.3 510.5C1269.7 510.9 1451.1 510.9 1632.5 512.0L1632.5 518.0C1451.1 512.4 1269.7 512.4 1088.3 515.5ZM1088.3 710.0C1269.7 708.1 1451.1 708.1 1632.5 705.5L1632.5 709.5C1451.1 717.4 1269.7 717.4 1088.3 715.5Z" fill="#cba6f7"/><path d="M1088.3 510.5C1269.7 510.9 1451.1 510.9 1632.5 512.0M1088.3 515.5C1269.7 512.4 1451.1 512.4 1632.5 518.0M1630.8 513.0C1630.8 579.0 1630.8 645.0 1630.8 711.0M1634.0 509.0C1633.0 576.3 1633.0 643.7 1632.0 711.0M1088.3 710.0C1269.7 708.1 1451.1 708.1 1632.5 705.5M1088.3 715.5C1269.7 717.4 1451.1 717.4 1632.5 709.5M1086.9 513.0C1087.2 579.0 1087.2 645.0 1088.0 711.0M1089.6 513.0C1089.1 579.0 1089.1 645.0 1088.5 711.0" fill="none" stroke="#cba6f7" stroke-width="6" stroke-linecap="square"/>
<text x="1360.4" y="628" font-size="48" fill="#ffffff" text-anchor="middle" font-weight="700" stroke="#ffffff" stroke-width="2" stroke-linejoin="round" textLength="401.86" lengthAdjust="spacingAndGlyphs">Unit tests: 2 min</text>
<path d="M1688.0 510.5C1928.5 510.9 2169.0 510.9 2409.5 512.0L2411.0 513.0C2410.0 579.0 2410.0 645.0 2409.0 711.0L2409.5 709.5C2169.0 717.4 1928.5 717.4 1688.0 715.5L1687.7 711.0C1687.0 645.0 1687.0 579.0 1686.6 513.0Z" fill="#10b981"/><path d="M1688.0 510.5C1928.5 510.9 2169.0 510.9 2409.5 512.0L2411.0 513.0C2410.0 579.0 2410.0 645.0 2409.0 711.0L2409.5 709.5C2169.0 717.4 1928.5 717.4 1688.0 715.5L1687.7 711.0C1687.0 645.0 1687.0 579.0 1686.6 513.0Z" fill="url(#sk-green)"/><path d="M1688.0 510.5C1928.5 510.9 2169.0 510.9 2409.5 512.0L2409.5 518.0C2169.0 512.4 1928.5 512.4 1688.0 515.5ZM1688.0 710.0C1928.5 708.1 2169.0 708.1 2409.5 705.5L2409.5 709.5C2169.0 717.4 1928.5 717.4 1688.0 715.5Z" fill="#cba6f7"/><path d="M1688.0 510.5C1928.5 510.9 2169.0 510.9 2409.5 512.0M1688.0 515.5C1928.5 512.4 2169.0 512.4 2409.5 518.0M2407.8 513.0C2407.8 579.0 2407.8 645.0 2407.8 711.0M2411.0 509.0C2410.0 576.3 2410.0 643.7 2409.0 711.0M1688.0 710.0C1928.5 708.1 2169.0 708.1 2409.5 705.5M1688.0 715.5C1928.5 717.4 2169.0 717.4 2409.5 709.5M1686.6 513.0C1687.0 579.0 1687.0 645.0 1687.7 711.0M1689.3 513.0C1688.8 579.0 1688.8 645.0 1688.2 711.0" fill="none" stroke="#cba6f7" stroke-width="6" stroke-linecap="square"/>
<text x="2048.75" y="628" font-size="48" fill="#ffffff" text-anchor="middle" font-weight="700" stroke="#ffffff" stroke-width="2" stroke-linejoin="round" textLength="578.84" lengthAdjust="spacingAndGlyphs">Integration tests: 2 min</text>
<path d="M2465.0 510.5C2688.2 510.9 2911.3 510.9 3134.5 512.0L3136.0 513.0C3135.0 579.0 3135.0 645.0 3134.0 711.0L3134.5 709.5C2911.3 717.4 2688.2 717.4 2465.0 715.5L2464.7 711.0C2463.9 645.0 2463.9 579.0 2463.6 513.0Z" fill="#10b981"/><path d="M2465.0 510.5C2688.2 510.9 2911.3 510.9 3134.5 512.0L3136.0 513.0C3135.0 579.0 3135.0 645.0 3134.0 711.0L3134.5 709.5C2911.3 717.4 2688.2 717.4 2465.0 715.5L2464.7 711.0C2463.9 645.0 2463.9 579.0 2463.6 513.0Z" fill="url(#sk-green)"/><path d="M2465.0 510.5C2688.2 510.9 2911.3 510.9 3134.5 512.0L3134.5 518.0C2911.3 512.4 2688.2 512.4 2465.0 515.5ZM2465.0 710.0C2688.2 708.1 2911.3 708.1 3134.5 705.5L3134.5 709.5C2911.3 717.4 2688.2 717.4 2465.0 715.5Z" fill="#cba6f7"/><path d="M2465.0 510.5C2688.2 510.9 2911.3 510.9 3134.5 512.0M2465.0 515.5C2688.2 512.4 2911.3 512.4 3134.5 518.0M3132.8 513.0C3132.8 579.0 3132.8 645.0 3132.8 711.0M3136.0 509.0C3135.0 576.3 3135.0 643.7 3134.0 711.0M2465.0 710.0C2688.2 708.1 2911.3 708.1 3134.5 705.5M2465.0 715.5C2688.2 717.4 2911.3 717.4 3134.5 709.5M2463.6 513.0C2463.9 579.0 2463.9 645.0 2464.7 711.0M2466.3 513.0C2465.8 579.0 2465.8 645.0 2465.2 711.0" fill="none" stroke="#cba6f7" stroke-width="6" stroke-linecap="square"/>
<text x="2799.75" y="628" font-size="48" fill="#ffffff" text-anchor="middle" font-weight="700" stroke="#ffffff" stroke-width="2" stroke-linejoin="round" textLength="529.92" lengthAdjust="spacingAndGlyphs">Security scan: parallel</text>
<path d="M213.3 1219.8C1323.1 1210.6 2432.9 1210.6 3542.7 1220.8L3543.3 1221.0C3543.2 1487.0 3543.2 1753.0 3543.0 2019.0L3542.7 2018.5C3487.2 2020.2 3320.7 2026.3 3209.8 2029.0C3098.8 2031.7 2998.9 2033.3 2876.8 2034.7C2754.7 2036.1 2588.3 2036.8 2477.3 2037.1C2366.3 2037.5 2310.8 2037.1 2210.9 2036.9C2111.1 2036.7 1964.6 2036.2 1878.0 2035.9C1791.4 2035.5 1776.5 2035.2 1691.6 2034.7C1606.7 2034.2 1504.0 2033.9 1368.6 2033.0C1233.2 2032.0 1025.1 2030.5 879.2 2029.2C733.2 2027.9 603.9 2026.1 493.0 2025.2C382.0 2024.2 259.9 2023.8 213.3 2023.5L213.0 2019.0C205.7 1753.0 205.7 1487.0 212.8 1221.0Z" fill="#f59e0b"/><path d="M213.3 1219.8C1323.1 1210.6 2432.9 1210.6 3542.7 1220.8L3543.3 1221.0C3543.2 1487.0 3543.2 1753.0 3543.0 2019.0L3542.7 2018.5C3487.2 2020.2 3320.7 2026.3 3209.8 2029.0C3098.8 2031.7 2998.9 2033.3 2876.8 2034.7C2754.7 2036.1 2588.3 2036.8 2477.3 2037.1C2366.3 2037.5 2310.8 2037.1 2210.9 2036.9C2111.1 2036.7 1964.6 2036.2 1878.0 2035.9C1791.4 2035.5 1776.5 2035.2 1691.6 2034.7C1606.7 2034.2 1504.0 2033.9 1368.6 2033.0C1233.2 2032.0 1025.1 2030.5 879.2 2029.2C733.2 2027.9 603.9 2026.1 493.0 2025.2C382.0 2024.2 259.9 2023.8 213.3 2023.5L213.0 2019.0C205.7 1753.0 205.7 1487.0 212.8 1221.0Z" fill="url(#sk-amber)"/><path d="M213.3 1219.8C1323.1 1210.6 2432.9 1210.6 3542.7 1220.8M213.3 1220.0C1323.1 1214.3 2432.9 1214.3 3542.7 1225.5M3542.2 1221.0C3539.1 1487.0 3539.1 1753.0 3542.2 2019.0M3543.3 1217.0C3543.2 1484.3 3543.2 1751.7 3543.0 2019.0M213.3 2018.6C1323.1 2019.2 2432.9 2019.3 3542.7 2014.0M213.3 2020.0C1323.1 2021.6 2432.9 2021.6 3542.7 2018.5M212.8 1221.0C205.7 1487.0 205.7 1753.0 213.0 2019.0M213.8 1221.0C206.2 1487.0 206.2 1753.0 213.5 2019.0" fill="none" stroke="#cba6f7" stroke-width="6" stroke-linecap="square"/><path d="M213.3 1223.5C1323.1 1223.5 2432.9 1223.5 3542.7 1224.0" fill="none" stroke="#cba6f7" stroke-width="2.8" stroke-linecap="square"/><path d="M213.3 2023.5C259.9 2023.8 382.0 2024.2 493.0 2025.2C603.9 2026.1 733.2 2027.9 879.2 2029.2C1025.1 2030.5 1233.2 2032.0 1368.6 2033.0C1504.0 2033.9 1606.7 2034.2 1691.6 2034.7C1776.5 2035.2 1791.4 2035.5 1878.0 2035.9C1964.6 2036.2 2111.1 2036.7 2210.9 2036.9C2310.8 2037.1 2366.3 2037.5 2477.3 2037.1C2588.3 2036.8 2754.7 2036.1 2876.8 2034.7C2998.9 2033.3 3098.8 2031.7 3209.8 2029.0C3320.7 2026.3 3487.2 2020.2 3542.7 2018.5" fill="none" stroke="#cba6f7" stroke-width="6.5" stroke-linecap="square"/>
<text x="1878" y="1307" font-size="72" fill="#1e1e2e" text-anchor="middle" stroke="#1e1e2e" stroke-width="0.7" stroke-linejoin="round" textLength="675.08" lengthAdjust="spacingAndGlyphs">PR Merged (10:30)</text>
<path d="M363.3 1369.8C1373.1 1361.5 2382.9 1361.5 3392.7 1370.8L3393.3 1371.0C3393.0 1537.0 3393.0 1703.0 3393.0 1869.0L3392.7 1868.5C3342.2 1870.1 3190.7 1875.6 3089.8 1878.1C2988.8 1880.5 2897.9 1882.0 2786.8 1883.3C2675.7 1884.5 2524.3 1885.2 2423.3 1885.5C2322.3 1885.8 2271.8 1885.5 2180.9 1885.3C2090.1 1885.1 1956.8 1884.7 1878.0 1884.4C1799.2 1884.0 1785.6 1883.7 1708.4 1883.3C1631.1 1882.8 1537.7 1882.6 1414.5 1881.7C1291.3 1880.9 1102.0 1879.4 969.2 1878.2C836.4 1877.1 718.7 1875.4 617.8 1874.6C516.8 1873.8 405.7 1873.7 363.3 1873.5L363.0 1869.0C357.3 1703.0 357.3 1537.0 362.8 1371.0Z" fill="#282a36"/><path d="M363.3 1369.8C1373.1 1361.5 2382.9 1361.5 3392.7 1370.8L3393.3 1371.0C3393.0 1537.0 3393.0 1703.0 3393.0 1869.0L3392.7 1868.5C3342.2 1870.1 3190.7 1875.6 3089.8 1878.1C2988.8 1880.5 2897.9 1882.0 2786.8 1883.3C2675.7 1884.5 2524.3 1885.2 2423.3 1885.5C2322.3 1885.8 2271.8 1885.5 2180.9 1885.3C2090.1 1885.1 1956.8 1884.7 1878.0 1884.4C1799.2 1884.0 1785.6 1883.7 1708.4 1883.3C1631.1 1882.8 1537.7 1882.6 1414.5 1881.7C1291.3 1880.9 1102.0 1879.4 969.2 1878.2C836.4 1877.1 718.7 1875.4 617.8 1874.6C516.8 1873.8 405.7 1873.7 363.3 1873.5L363.0 1869.0C357.3 1703.0 357.3 1537.0 362.8 1371.0Z" fill="url(#sk-dark)"/><path d="M363.3 1369.8C1373.1 1361.5 2382.9 1361.5 3392.7 1370.8M363.3 1370.0C1373.1 1365.3 2382.9 1365.3 3392.7 1375.5M3392.2 1371.0C3389.9 1537.0 3389.9 1703.0 3392.2 1869.0M3393.3 1367.0C3393.0 1534.3 3393.0 1701.7 3393.0 1869.0M363.3 1868.6C1373.1 1869.2 2382.9 1869.3 3392.7 1864.0M363.3 1870.0C1373.1 1871.6 2382.9 1871.6 3392.7 1868.5M362.8 1371.0C357.3 1537.0 357.3 1703.0 363.0 1869.0M363.8 1371.0C357.7 1537.0 357.7 1703.0 363.5 1869.0" fill="none" stroke="#cba6f7" stroke-width="6" stroke-linecap="square"/><path d="M363.3 1373.5C1373.1 1373.5 2382.9 1373.5 3392.7 1374.0" fill="none" stroke="#cba6f7" stroke-width="2.8" stroke-linecap="square"/><path d="M363.3 1873.5C405.7 1873.7 516.8 1873.8 617.8 1874.6C718.7 1875.4 836.4 1877.1 969.2 1878.2C1102.0 1879.4 1291.3 1880.9 1414.5 1881.7C1537.7 1882.6 1631.1 1882.8 1708.4 1883.3C1785.6 1883.7 1799.2 1884.0 1878.0 1884.4C1956.8 1884.7 2090.1 1885.1 2180.9 1885.3C2271.8 1885.5 2322.3 1885.8 2423.3 1885.5C2524.3 1885.2 2675.7 1884.5 2786.8 1883.3C2897.9 1882.0 2988.8 1880.5 3089.8 1878.1C3190.7 1875.6 3342.2 1870.1 3392.7 1868.5" fill="none" stroke="#cba6f7" stroke-width="6.5" stroke-linecap="square"/>
<text x="1878" y="1446" font-size="60" fill="#cdd6f4" text-anchor="middle" stroke="#cdd6f4" stroke-width="0.7" stroke-linejoin="round" textLength="687.13" lengthAdjust="spacingAndGlyphs">Build &amp; Deploy: 10 min</text>
<path d="M513.3 1518.5C716.2 1518.9 919.1 1518.9 1122.0 1520.0L1123.5 1521.0C1122.5 1587.0 1122.5 1653.0 1121.5 1719.0L1122.0 1717.5C919.1 1725.4 716.2 1725.4 513.3 1723.5L513.0 1719.0C512.2 1653.0 512.2 1587.0 511.9 1521.0Z" fill="#f59e0b"/><path d="M513.3 1518.5C716.2 1518.9 919.1 1518.9 1122.0 1520.0L1123.5 1521.0C1122.5 1587.0 1122.5 1653.0 1121.5 1719.0L1122.0 1717.5C919.1 1725.4 716.2 1725.4 513.3 1723.5L513.0 1719.0C512.2 1653.0 512.2 1587.0 511.9 1521.0Z" fill="url(#sk-amber)"/><path d="M513.3 1518.5C716.2 1518.9 919.1 1518.9 1122.0 1520.0L1122.0 1526.0C919.1 1520.4 716.2 1520.4 513.3 1523.5ZM513.3 1718.0C716.2 1716.1 919.1 1716.1 1122.0 1713.5L1122.0 1717.5C919.1 1725.4 716.2 1725.4 513.3 1723.5Z" fill="#cba6f7"/><path d="M513.3 1518.5C716.2 1518.9 919.1 1518.9 1122.0 1520.0M513.3 1523.5C716.2 1520.4 919.1 1520.4 1122.0 1526.0M1120.3 1521.0C1120.3 1587.0 1120.3 1653.0 1120.3 1719.0M1123.5 1517.0C1122.5 1584.3 1122.5 1651.7 1121.5 1719.0M513.3 1718.0C716.2 1716.1 919.1 1716.1 1122.0 1713.5M513.3 1723.5C716.2 1725.4 919.1 1725.4 1122.0 1717.5M511.9 1521.0C512.2 1587.0 512.2 1653.0 513.0 1719.0M514.6 1521.0C514.1 1587.0 514.1 1653.0 513.5 1719.0" fill="none" stroke="#cba6f7" stroke-width="6" stroke-linecap="square"/>
<text x="817.65" y="1636" font-size="48" fill="#1e1e2e" text-anchor="middle" font-weight="700" stroke="#1e1e2e" stroke-width="2" stroke-linejoin="round" textLength="469.88" lengthAdjust="spacingAndGlyphs">Docker build: 3 min</text>
<path d="M1178.5 1518.5C1381.8 1518.9 1585.2 1518.9 1788.5 1520.0L1790.0 1521.0C1789.0 1587.0 1789.0 1653.0 1788.0 1719.0L1788.5 1717.5C1585.2 1725.4 1381.8 1725.4 1178.5 1723.5L1178.2 1719.0C1177.5 1653.0 1177.5 1587.0 1177.1 1521.0Z" fill="#f59e0b"/><path d="M1178.5 1518.5C1381.8 1518.9 1585.2 1518.9 1788.5 1520.0L1790.0 1521.0C1789.0 1587.0 1789.0 1653.0 1788.0 1719.0L1788.5 1717.5C1585.2 1725.4 1381.8 1725.4 1178.5 1723.5L1178.2 1719.0C1177.5 1653.0 1177.5 1587.0 1177.1 1521.0Z" fill="url(#sk-amber)"/><path d="M1178.5 1518.5C1381.8 1518.9 1585.2 1518.9 1788.5 1520.0L1788.5 1526.0C1585.2 1520.4 1381.8 1520.4 1178.5 1523.5ZM1178.5 1718.0C1381.8 1716.1 1585.2 1716.1 1788.5 1713.5L1788.5 1717.5C1585.2 1725.4 1381.8 1725.4 1178.5 1723.5Z" fill="#cba6f7"/><path d="M1178.5 1518.5C1381.8 1518.9 1585.2 1518.9 1788.5 1520.0M1178.5 1523.5C1381.8 1520.4 1585.2 1520.4 1788.5 1526.0M1786.8 1521.0C1786.8 1587.0 1786.8 1653.0 1786.8 1719.0M1790.0 1517.0C1789.0 1584.3 1789.0 1651.7 1788.0 1719.0M1178.5 1718.0C1381.8 1716.1 1585.2 1716.1 1788.5 1713.5M1178.5 1723.5C1381.8 1725.4 1585.2 1725.4 1788.5 1717.5M1177.1 1521.0C1177.5 1587.0 1177.5 1653.0 1178.2 1719.0M1179.8 1521.0C1179.3 1587.0 1179.3 1653.0 1178.7 1719.0" fill="none" stroke="#cba6f7" stroke-width="6" stroke-linecap="square"/>
<text x="1483.5" y="1636" font-size="48" fill="#1e1e2e" text-anchor="middle" font-weight="700" stroke="#1e1e2e" stroke-width="2" stroke-linejoin="round" textLength="470.22" lengthAdjust="spacingAndGlyphs">Push registry: 1 min</text>
<path d="M1844.5 1518.5C2065.7 1518.9 2286.8 1518.9 2508.0 1520.0L2509.5 1521.0C2508.5 1587.0 2508.5 1653.0 2507.5 1719.0L2508.0 1717.5C2286.8 1725.4 2065.7 1725.4 1844.5 1723.5L1844.2 1719.0C1843.5 1653.0 1843.5 1587.0 1843.1 1521.0Z" fill="#f59e0b"/><path d="M1844.5 1518.5C2065.7 1518.9 2286.8 1518.9 2508.0 1520.0L2509.5 1521.0C2508.5 1587.0 2508.5 1653.0 2507.5 1719.0L2508.0 1717.5C2286.8 1725.4 2065.7 1725.4 1844.5 1723.5L1844.2 1719.0C1843.5 1653.0 1843.5 1587.0 1843.1 1521.0Z" fill="url(#sk-amber)"/><path d="M1844.5 1518.5C2065.7 1518.9 2286.8 1518.9 2508.0 1520.0L2508.0 1526.0C2286.8 1520.4 2065.7 1520.4 1844.5 1523.5ZM1844.5 1718.0C2065.7 1716.1 2286.8 1716.1 2508.0 1713.5L2508.0 1717.5C2286.8 1725.4 2065.7 1725.4 1844.5 1723.5Z" fill="#cba6f7"/><path d="M1844.5 1518.5C2065.7 1518.9 2286.8 1518.9 2508.0 1520.0M1844.5 1523.5C2065.7 1520.4 2286.8 1520.4 2508.0 1526.0M2506.3 1521.0C2506.3 1587.0 2506.3 1653.0 2506.3 1719.0M2509.5 1517.0C2508.5 1584.3 2508.5 1651.7 2507.5 1719.0M1844.5 1718.0C2065.7 1716.1 2286.8 1716.1 2508.0 1713.5M1844.5 1723.5C2065.7 1725.4 2286.8 1725.4 2508.0 1717.5M1843.1 1521.0C1843.5 1587.0 1843.5 1653.0 1844.2 1719.0M1845.8 1521.0C1845.3 1587.0 1845.3 1653.0 1844.7 1719.0" fill="none" stroke="#cba6f7" stroke-width="6" stroke-linecap="square"/>
<text x="2176.25" y="1636" font-size="48" fill="#1e1e2e" text-anchor="middle" font-weight="700" stroke="#1e1e2e" stroke-width="2" stroke-linejoin="round" textLength="522.58" lengthAdjust="spacingAndGlyphs">Deploy staging: 2 min</text>
<path d="M2564.5 1518.5C2790.6 1518.9 3016.6 1518.9 3242.7 1520.0L3244.2 1521.0C3243.2 1587.0 3243.2 1653.0 3242.2 1719.0L3242.7 1717.5C3016.6 1725.4 2790.6 1725.4 2564.5 1723.5L2564.2 1719.0C2563.4 1653.0 2563.4 1587.0 2563.1 1521.0Z" fill="#f59e0b"/><path d="M2564.5 1518.5C2790.6 1518.9 3016.6 1518.9 3242.7 1520.0L3244.2 1521.0C3243.2 1587.0 3243.2 1653.0 3242.2 1719.0L3242.7 1717.5C3016.6 1725.4 2790.6 1725.4 2564.5 1723.5L2564.2 1719.0C2563.4 1653.0 2563.4 1587.0 2563.1 1521.0Z" fill="url(#sk-amber)"/><path d="M2564.5 1518.5C2790.6 1518.9 3016.6 1518.9 3242.7 1520.0L3242.7 1526.0C3016.6 1520.4 2790.6 1520.4 2564.5 1523.5ZM2564.5 1718.0C2790.6 1716.1 3016.6 1716.1 3242.7 1713.5L3242.7 1717.5C3016.6 1725.4 2790.6 1725.4 2564.5 1723.5Z" fill="#cba6f7"/><path d="M2564.5 1518.5C2790.6 1518.9 3016.6 1518.9 3242.7 1520.0M2564.5 1523.5C2790.6 1520.4 3016.6 1520.4 3242.7 1526.0M3241.0 1521.0C3241.0 1587.0 3241.0 1653.0 3241.0 1719.0M3244.2 1517.0C3243.2 1584.3 3243.2 1651.7 3242.2 1719.0M2564.5 1718.0C2790.6 1716.1 3016.6 1716.1 3242.7 1713.5M2564.5 1723.5C2790.6 1725.4 3016.6 1725.4 3242.7 1717.5M2563.1 1521.0C2563.4 1587.0 2563.4 1653.0 2564.2 1719.0M2565.8 1521.0C2565.3 1587.0 2565.3 1653.0 2564.7 1719.0" fill="none" stroke="#cba6f7" stroke-width="6" stroke-linecap="square"/>
<text x="2903.6" y="1636" font-size="48" fill="#1e1e2e" text-anchor="middle" font-weight="700" stroke="#1e1e2e" stroke-width="2" stroke-linejoin="round" textLength="537.66" lengthAdjust="spacingAndGlyphs">Health + Smoke: 2 min</text>
<path d="M644.3 2227.8C1465.6 2221.3 2286.9 2221.3 3108.2 2228.8L3108.8 2229.0C3108.7 2495.0 3108.7 2761.0 3108.5 3027.0L3108.2 3026.5C3067.1 3027.8 2943.9 3032.4 2861.8 3034.4C2779.7 3036.4 2705.8 3037.6 2615.4 3038.6C2525.1 3039.6 2401.9 3040.2 2319.8 3040.4C2237.6 3040.7 2196.6 3040.4 2122.6 3040.2C2048.7 3040.1 1940.3 3039.8 1876.2 3039.5C1812.2 3039.2 1801.1 3039.0 1738.3 3038.6C1675.4 3038.3 1599.5 3038.0 1499.3 3037.3C1399.1 3036.7 1245.1 3035.5 1137.1 3034.5C1029.1 3033.6 933.4 3032.1 851.3 3031.6C769.1 3031.1 678.8 3031.5 644.3 3031.5L644.0 3027.0C636.7 2761.0 636.7 2495.0 643.8 2229.0Z" fill="#dc2626"/><path d="M644.3 2227.8C1465.6 2221.3 2286.9 2221.3 3108.2 2228.8L3108.8 2229.0C3108.7 2495.0 3108.7 2761.0 3108.5 3027.0L3108.2 3026.5C3067.1 3027.8 2943.9 3032.4 2861.8 3034.4C2779.7 3036.4 2705.8 3037.6 2615.4 3038.6C2525.1 3039.6 2401.9 3040.2 2319.8 3040.4C2237.6 3040.7 2196.6 3040.4 2122.6 3040.2C2048.7 3040.1 1940.3 3039.8 1876.2 3039.5C1812.2 3039.2 1801.1 3039.0 1738.3 3038.6C1675.4 3038.3 1599.5 3038.0 1499.3 3037.3C1399.1 3036.7 1245.1 3035.5 1137.1 3034.5C1029.1 3033.6 933.4 3032.1 851.3 3031.6C769.1 3031.1 678.8 3031.5 644.3 3031.5L644.0 3027.0C636.7 2761.0 636.7 2495.0 643.8 2229.0Z" fill="url(#sk-red)"/><path d="M644.3 2227.8C1465.6 2221.3 2286.9 2221.3 3108.2 2228.8M644.3 2228.0C1465.6 2225.1 2286.9 2225.1 3108.2 2233.5M3107.7 2229.0C3104.6 2495.0 3104.6 2761.0 3107.7 3027.0M3108.8 2225.0C3108.7 2492.3 3108.7 2759.7 3108.5 3027.0M644.3 3026.6C1465.6 3027.2 2286.9 3027.3 3108.2 3022.0M644.3 3028.0C1465.6 3029.6 2286.9 3029.6 3108.2 3026.5M643.8 2229.0C636.7 2495.0 636.7 2761.0 644.0 3027.0M644.8 2229.0C637.2 2495.0 637.2 2761.0 644.5 3027.0" fill="none" stroke="#cba6f7" stroke-width="6" stroke-linecap="square"/><path d="M644.3 2231.5C1465.6 2231.6 2286.9 2231.6 3108.2 2232.0" fill="none" stroke="#cba6f7" stroke-width="2.8" stroke-linecap="square"/><path d="M644.3 3031.5C678.8 3031.5 769.1 3031.1 851.3 3031.6C933.4 3032.1 1029.1 3033.6 1137.1 3034.5C1245.1 3035.5 1399.1 3036.7 1499.3 3037.3C1599.5 3038.0 1675.4 3038.3 1738.3 3038.6C1801.1 3039.0 1812.2 3039.2 1876.2 3039.5C1940.3 3039.8 2048.7 3040.1 2122.6 3040.2C2196.6 3040.4 2237.6 3040.7 2319.8 3040.4C2401.9 3040.2 2525.1 3039.6 2615.4 3038.6C2705.8 3037.6 2779.7 3036.4 2861.8 3034.4C2943.9 3032.4 3067.1 3027.8 3108.2 3026.5" fill="none" stroke="#cba6f7" stroke-width="6.5" stroke-linecap="square"/>
<text x="1876" y="2315" font-size="72" fill="#ffffff" text-anchor="middle" stroke="#ffffff" stroke-width="0.7" stroke-linejoin="round" textLength="813.97" lengthAdjust="spacingAndGlyphs">Release v1.0.0 (14:00)</text>
<path d="M794.3 2378.8C1515.6 2373.3 2236.9 2373.3 2958.2 2379.8L2958.8 2380.0C2958.5 2545.7 2958.5 2711.3 2958.5 2877.0L2958.2 2876.5C2922.1 2877.7 2813.9 2881.7 2741.8 2883.5C2669.7 2885.3 2604.8 2886.3 2525.4 2887.2C2446.1 2888.1 2337.9 2888.6 2265.8 2888.8C2193.6 2889.0 2157.6 2888.8 2092.6 2888.6C2027.7 2888.5 1932.5 2888.2 1876.2 2888.0C1820.0 2887.7 1810.3 2887.5 1755.1 2887.2C1699.9 2886.9 1633.2 2886.7 1545.2 2886.1C1457.2 2885.5 1321.9 2884.4 1227.1 2883.6C1132.2 2882.8 1048.2 2881.4 976.1 2881.0C903.9 2880.7 824.6 2881.4 794.3 2881.5L794.0 2877.0C788.3 2711.3 788.3 2545.7 793.8 2380.0Z" fill="#282a36"/><path d="M794.3 2378.8C1515.6 2373.3 2236.9 2373.3 2958.2 2379.8L2958.8 2380.0C2958.5 2545.7 2958.5 2711.3 2958.5 2877.0L2958.2 2876.5C2922.1 2877.7 2813.9 2881.7 2741.8 2883.5C2669.7 2885.3 2604.8 2886.3 2525.4 2887.2C2446.1 2888.1 2337.9 2888.6 2265.8 2888.8C2193.6 2889.0 2157.6 2888.8 2092.6 2888.6C2027.7 2888.5 1932.5 2888.2 1876.2 2888.0C1820.0 2887.7 1810.3 2887.5 1755.1 2887.2C1699.9 2886.9 1633.2 2886.7 1545.2 2886.1C1457.2 2885.5 1321.9 2884.4 1227.1 2883.6C1132.2 2882.8 1048.2 2881.4 976.1 2881.0C903.9 2880.7 824.6 2881.4 794.3 2881.5L794.0 2877.0C788.3 2711.3 788.3 2545.7 793.8 2380.0Z" fill="url(#sk-dark)"/><path d="M794.3 2378.8C1515.6 2373.3 2236.9 2373.3 2958.2 2379.8M794.3 2379.0C1515.6 2377.0 2236.9 2377.0 2958.2 2384.5M2957.7 2380.0C2955.4 2545.7 2955.4 2711.3 2957.7 2877.0M2958.8 2376.0C2958.5 2543.0 2958.5 2710.0 2958.5 2877.0M794.3 2876.6C1515.6 2877.2 2236.9 2877.3 2958.2 2872.0M794.3 2878.0C1515.6 2879.6 2236.9 2879.6 2958.2 2876.5M793.8 2380.0C788.3 2545.7 788.3 2711.3 794.0 2877.0M794.8 2380.0C788.7 2545.7 788.7 2711.3 794.5 2877.0" fill="none" stroke="#cba6f7" stroke-width="6" stroke-linecap="square"/><path d="M794.3 2382.5C1515.6 2382.6 2236.9 2382.6 2958.2 2383.0" fill="none" stroke="#cba6f7" stroke-width="2.8" stroke-linecap="square"/><path d="M794.3 2881.5C824.6 2881.4 903.9 2880.7 976.1 2881.0C1048.2 2881.4 1132.2 2882.8 1227.1 2883.6C1321.9 2884.4 1457.2 2885.5 1545.2 2886.1C1633.2 2886.7 1699.9 2886.9 1755.1 2887.2C1810.3 2887.5 1820.0 2887.7 1876.2 2888.0C1932.5 2888.2 2027.7 2888.5 2092.6 2888.6C2157.6 2888.8 2193.6 2889.0 2265.8 2888.8C2337.9 2888.6 2446.1 2888.1 2525.4 2887.2C2604.8 2886.3 2669.7 2885.3 2741.8 2883.5C2813.9 2881.7 2922.1 2877.7 2958.2 2876.5" fill="none" stroke="#cba6f7" stroke-width="6.5" stroke-linecap="square"/>
<text x="1876" y="2454" font-size="60" fill="#cdd6f4" text-anchor="middle" stroke="#cdd6f4" stroke-width="0.7" stroke-linejoin="round" textLength="570.31" lengthAdjust="spacingAndGlyphs">Production: 15 min</text>
<path d="M944.3 2526.5C1124.7 2526.9 1305.1 2526.9 1485.5 2528.0L1487.0 2529.0C1486.0 2595.0 1486.0 2661.0 1485.0 2727.0L1485.5 2725.5C1305.1 2733.4 1124.7 2733.4 944.3 2731.5L944.0 2727.0C943.2 2661.0 943.2 2595.0 942.9 2529.0Z" fill="#dc2626"/><path d="M944.3 2526.5C1124.7 2526.9 1305.1 2526.9 1485.5 2528.0L1487.0 2529.0C1486.0 2595.0 1486.0 2661.0 1485.0 2727.0L1485.5 2725.5C1305.1 2733.4 1124.7 2733.4 944.3 2731.5L944.0 2727.0C943.2 2661.0 943.2 2595.0 942.9 2529.0Z" fill="url(#sk-red)"/><path d="M944.3 2526.5C1124.7 2526.9 1305.1 2526.9 1485.5 2528.0L1485.5 2534.0C1305.1 2528.4 1124.7 2528.4 944.3 2531.5ZM944.3 2726.0C1124.7 2724.1 1305.1 2724.1 1485.5 2721.5L1485.5 2725.5C1305.1 2733.4 1124.7 2733.4 944.3 2731.5Z" fill="#cba6f7"/><path d="M944.3 2526.5C1124.7 2526.9 1305.1 2526.9 1485.5 2528.0M944.3 2531.5C1124.7 2528.4 1305.1 2528.4 1485.5 2534.0M1483.8 2529.0C1483.8 2595.0 1483.8 2661.0 1483.8 2727.0M1487.0 2525.0C1486.0 2592.3 1486.0 2659.7 1485.0 2727.0M944.3 2726.0C1124.7 2724.1 1305.1 2724.1 1485.5 2721.5M944.3 2731.5C1124.7 2733.4 1305.1 2733.4 1485.5 2725.5M942.9 2529.0C943.2 2595.0 943.2 2661.0 944.0 2727.0M945.6 2529.0C945.1 2595.0 945.1 2661.0 944.5 2727.0" fill="none" stroke="#cba6f7" stroke-width="6" stroke-linecap="square"/>
<text x="1214.9" y="2644" font-size="48" fill="#ffffff" text-anchor="middle" font-weight="700" stroke="#ffffff" stroke-width="2" stroke-linejoin="round" textLength="400.38" lengthAdjust="spacingAndGlyphs">Manual approval</text>
<path d="M1541.0 2526.5C1741.3 2526.9 1941.7 2526.9 2142.0 2528.0L2143.5 2529.0C2142.5 2595.0 2142.5 2661.0 2141.5 2727.0L2142.0 2725.5C1941.7 2733.4 1741.3 2733.4 1541.0 2731.5L1540.7 2727.0C1540.0 2661.0 1540.0 2595.0 1539.6 2529.0Z" fill="#dc2626"/><path d="M1541.0 2526.5C1741.3 2526.9 1941.7 2526.9 2142.0 2528.0L2143.5 2529.0C2142.5 2595.0 2142.5 2661.0 2141.5 2727.0L2142.0 2725.5C1941.7 2733.4 1741.3 2733.4 1541.0 2731.5L1540.7 2727.0C1540.0 2661.0 1540.0 2595.0 1539.6 2529.0Z" fill="url(#sk-red)"/><path d="M1541.0 2526.5C1741.3 2526.9 1941.7 2526.9 2142.0 2528.0L2142.0 2534.0C1941.7 2528.4 1741.3 2528.4 1541.0 2531.5ZM1541.0 2726.0C1741.3 2724.1 1941.7 2724.1 2142.0 2721.5L2142.0 2725.5C1941.7 2733.4 1741.3 2733.4 1541.0 2731.5Z" fill="#cba6f7"/><path d="M1541.0 2526.5C1741.3 2526.9 1941.7 2526.9 2142.0 2528.0M1541.0 2531.5C1741.3 2528.4 1941.7 2528.4 2142.0 2534.0M2140.3 2529.0C2140.3 2595.0 2140.3 2661.0 2140.3 2727.0M2143.5 2525.0C2142.5 2592.3 2142.5 2659.7 2141.5 2727.0M1541.0 2726.0C1741.3 2724.1 1941.7 2724.1 2142.0 2721.5M1541.0 2731.5C1741.3 2733.4 1941.7 2733.4 2142.0 2725.5M1539.6 2529.0C1540.0 2595.0 1540.0 2661.0 1540.7 2727.0M1542.3 2529.0C1541.8 2595.0 1541.8 2661.0 1541.2 2727.0" fill="none" stroke="#cba6f7" stroke-width="6" stroke-linecap="square"/>
<text x="1841.5" y="2644" font-size="48" fill="#ffffff" text-anchor="middle" font-weight="700" stroke="#ffffff" stroke-width="2" stroke-linejoin="round" textLength="458.5" lengthAdjust="spacingAndGlyphs">Deploy prod: 3 min</text>
<path d="M2198.0 2526.5C2401.4 2526.9 2604.8 2526.9 2808.2 2528.0L2809.7 2529.0C2808.7 2595.0 2808.7 2661.0 2807.7 2727.0L2808.2 2725.5C2604.8 2733.4 2401.4 2733.4 2198.0 2731.5L2197.7 2727.0C2196.9 2661.0 2196.9 2595.0 2196.6 2529.0Z" fill="#dc2626"/><path d="M2198.0 2526.5C2401.4 2526.9 2604.8 2526.9 2808.2 2528.0L2809.7 2529.0C2808.7 2595.0 2808.7 2661.0 2807.7 2727.0L2808.2 2725.5C2604.8 2733.4 2401.4 2733.4 2198.0 2731.5L2197.7 2727.0C2196.9 2661.0 2196.9 2595.0 2196.6 2529.0Z" fill="url(#sk-red)"/><path d="M2198.0 2526.5C2401.4 2526.9 2604.8 2526.9 2808.2 2528.0L2808.2 2534.0C2604.8 2528.4 2401.4 2528.4 2198.0 2531.5ZM2198.0 2726.0C2401.4 2724.1 2604.8 2724.1 2808.2 2721.5L2808.2 2725.5C2604.8 2733.4 2401.4 2733.4 2198.0 2731.5Z" fill="#cba6f7"/><path d="M2198.0 2526.5C2401.4 2526.9 2604.8 2526.9 2808.2 2528.0M2198.0 2531.5C2401.4 2528.4 2604.8 2528.4 2808.2 2534.0M2806.5 2529.0C2806.5 2595.0 2806.5 2661.0 2806.5 2727.0M2809.7 2525.0C2808.7 2592.3 2808.7 2659.7 2807.7 2727.0M2198.0 2726.0C2401.4 2724.1 2604.8 2724.1 2808.2 2721.5M2198.0 2731.5C2401.4 2733.4 2604.8 2733.4 2808.2 2725.5M2196.6 2529.0C2196.9 2595.0 2196.9 2661.0 2197.7 2727.0M2199.3 2529.0C2198.8 2595.0 2198.8 2661.0 2198.2 2727.0" fill="none" stroke="#cba6f7" stroke-width="6" stroke-linecap="square"/>
<text x="2503.1" y="2644" font-size="48" fill="#ffffff" text-anchor="middle" font-weight="700" stroke="#ffffff" stroke-width="2" stroke-linejoin="round" textLength="469.92" lengthAdjust="spacingAndGlyphs">Health verify: 2 min</text>
<path d="M1451.5 3234.5C1734.7 3234.9 2017.8 3234.9 2301.0 3236.0L2302.5 3237.0C2301.5 3303.5 2301.5 3370.0 2300.5 3436.5L2301.0 3435.0C2017.8 3442.9 1734.7 3442.9 1451.5 3441.0L1451.2 3436.5C1450.5 3370.0 1450.5 3303.5 1450.1 3237.0Z" fill="#7c3aed"/><path d="M1451.5 3234.5C1734.7 3234.9 2017.8 3234.9 2301.0 3236.0L2302.5 3237.0C2301.5 3303.5 2301.5 3370.0 2300.5 3436.5L2301.0 3435.0C2017.8 3442.9 1734.7 3442.9 1451.5 3441.0L1451.2 3436.5C1450.5 3370.0 1450.5 3303.5 1450.1 3237.0Z" fill="url(#sk-violet)"/><path d="M1451.5 3234.5C1734.7 3234.9 2017.8 3234.9 2301.0 3236.0L2301.0 3242.0C2017.8 3236.4 1734.7 3236.4 1451.5 3239.5ZM1451.5 3435.5C1734.7 3433.6 2017.8 3433.6 2301.0 3431.0L2301.0 3435.0C2017.8 3442.9 1734.7 3442.9 1451.5 3441.0Z" fill="#cba6f7"/><path d="M1451.5 3234.5C1734.7 3234.9 2017.8 3234.9 2301.0 3236.0M1451.5 3239.5C1734.7 3236.4 2017.8 3236.4 2301.0 3242.0M2299.3 3237.0C2299.3 3303.5 2299.3 3370.0 2299.3 3436.5M2302.5 3233.0C2301.5 3300.8 2301.5 3368.7 2300.5 3436.5M1451.5 3435.5C1734.7 3433.6 2017.8 3433.6 2301.0 3431.0M1451.5 3441.0C1734.7 3442.9 2017.8 3442.9 2301.0 3435.0M1450.1 3237.0C1450.5 3303.5 1450.5 3370.0 1451.2 3436.5M1452.8 3237.0C1452.3 3303.5 1452.3 3370.0 1451.7 3436.5" fill="none" stroke="#cba6f7" stroke-width="6" stroke-linecap="square"/>
<text x="1876" y="3352" font-size="48" fill="#ffffff" text-anchor="middle" font-weight="700" stroke="#ffffff" stroke-width="2" stroke-linejoin="round" textLength="710.31" lengthAdjust="spacingAndGlyphs">Total: ~15 min merge to prod</text>
<path d="M1872.9 1014.0C1872.4 1074.0 1874.0 1106.0 1874.5 1182.0M1874.6 1015.0C1874.2 1084.0 1875.5 1096.0 1875.7 1182.0" fill="none" stroke="#f59e0b" stroke-width="6" stroke-linecap="round"/><path d="M1862.7 1179.0L1889.7 1179.0L1876.2 1211.0Z" fill="#f59e0b" stroke="#f59e0b" stroke-width="5" stroke-linejoin="round"/>
<path d="M1872.9 2022.0C1872.4 2082.0 1874.0 2114.0 1874.5 2190.0M1874.6 2023.0C1874.2 2092.0 1875.5 2104.0 1875.7 2190.0" fill="none" stroke="#dc2626" stroke-width="6" stroke-linecap="round"/><path d="M1862.7 2187.0L1889.7 2187.0L1876.2 2219.0Z" fill="#dc2626" stroke="#dc2626" stroke-width="5" stroke-linejoin="round"/>
<path d="M1872.9 3030.0C1872.4 3090.0 1874.0 3122.0 1874.5 3198.0M1874.6 3031.0C1874.2 3100.0 1875.5 3112.0 1875.7 3198.0" fill="none" stroke="#7c3aed" stroke-width="6" stroke-linecap="round"/><path d="M1862.7 3195.0L1889.7 3195.0L1876.2 3227.0Z" fill="#7c3aed" stroke="#7c3aed" stroke-width="5" stroke-linejoin="round"/>

</svg>
</body></html>
